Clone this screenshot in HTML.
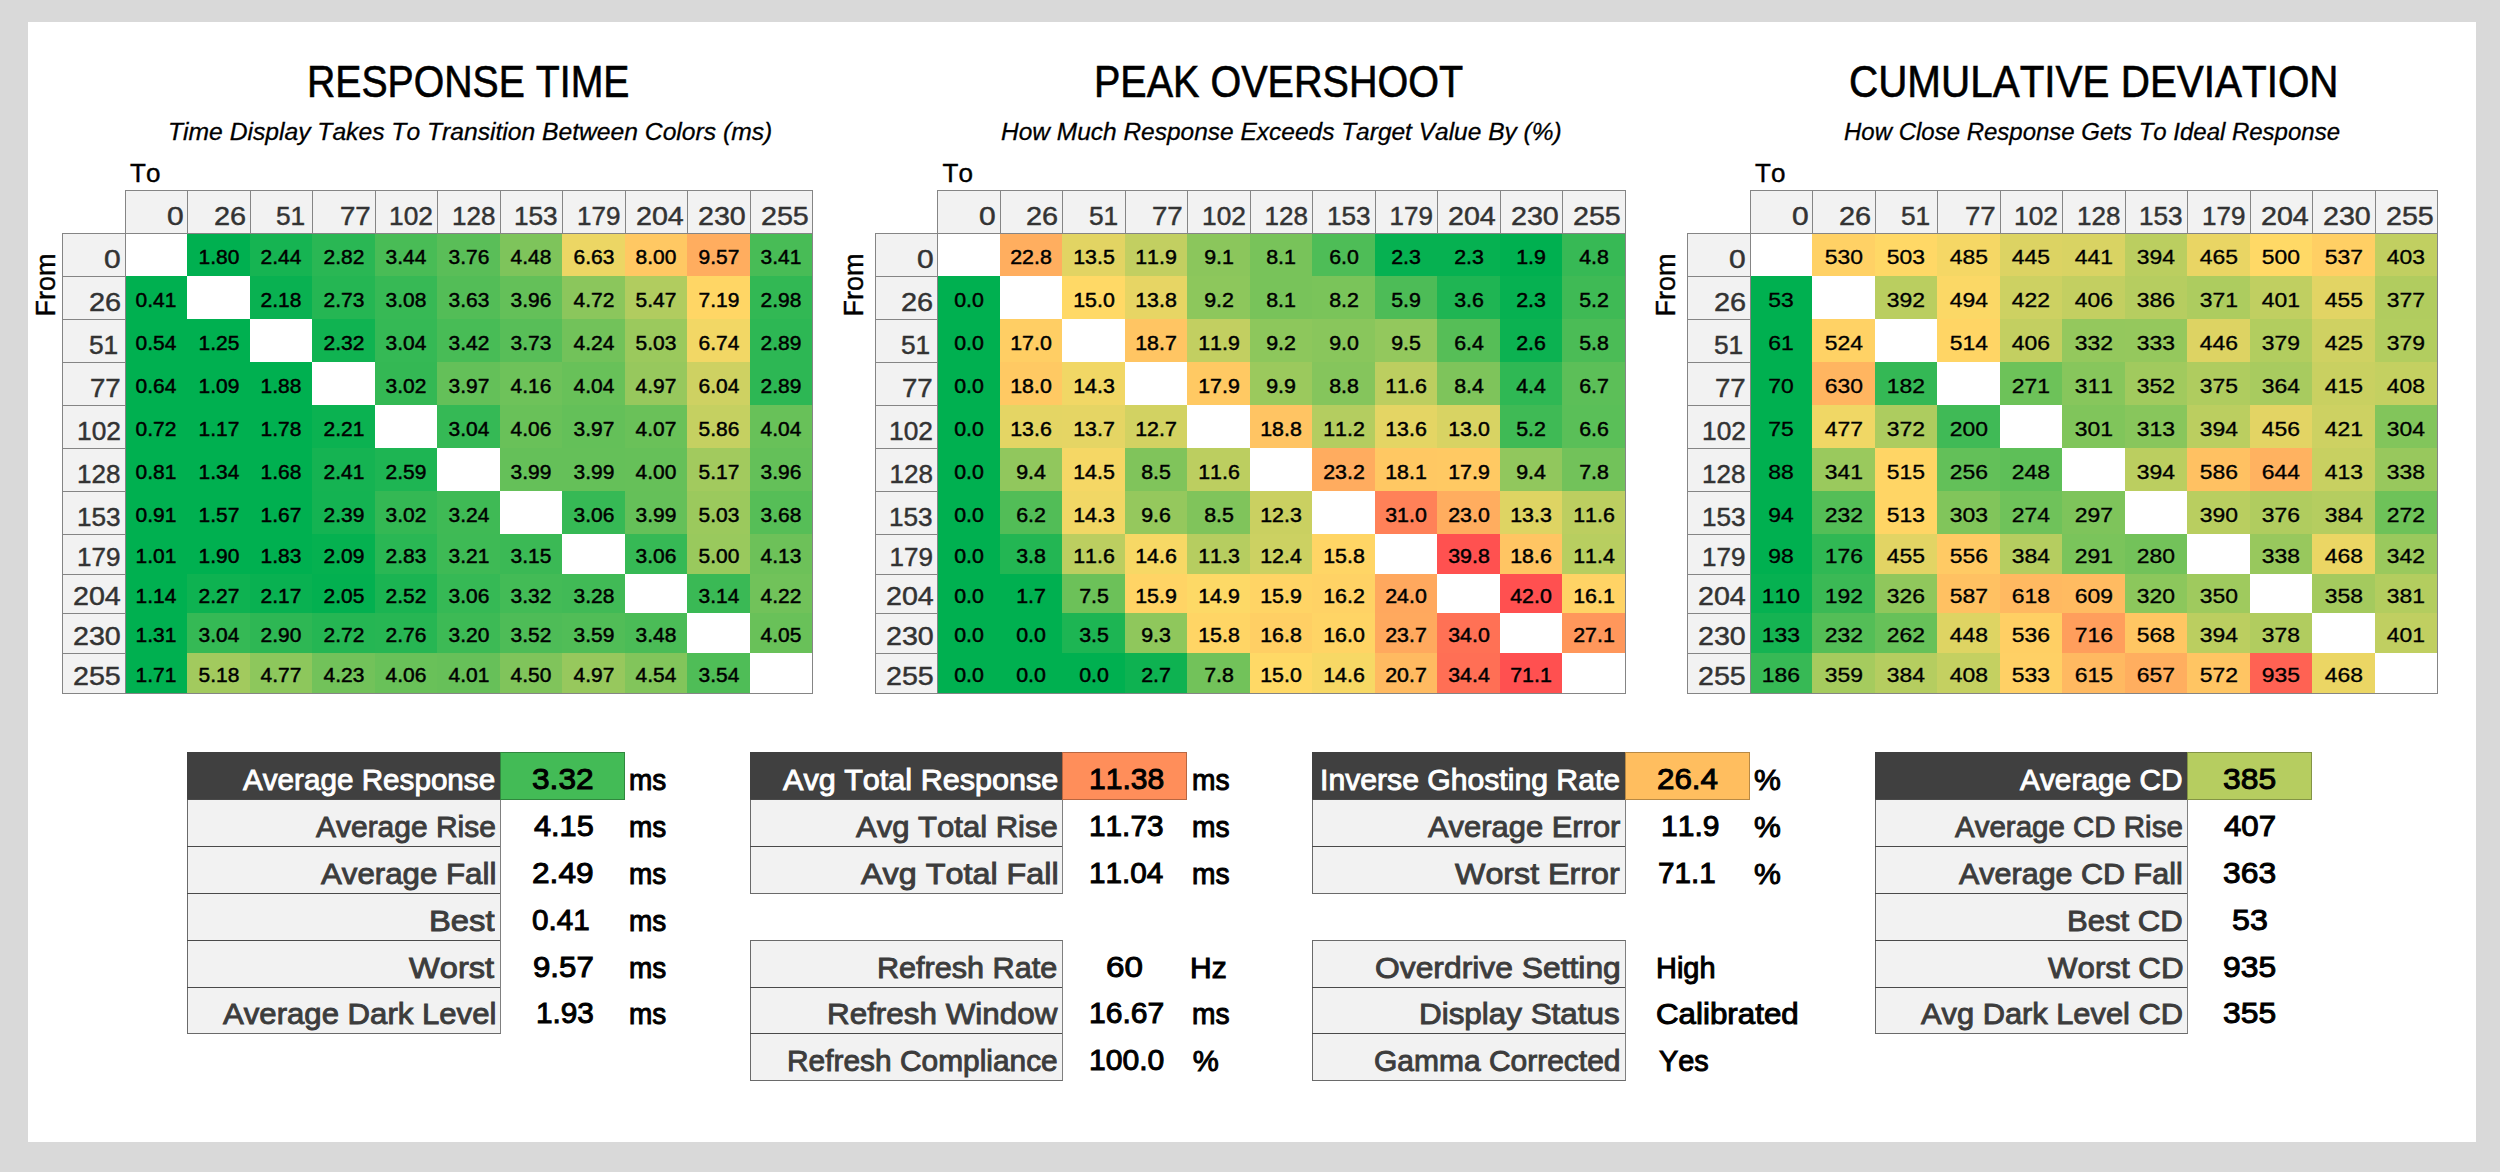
<!DOCTYPE html>
<html><head><meta charset="utf-8"><title>Response Time</title><style>
html,body{margin:0;padding:0;}
body{width:2500px;height:1172px;background:#d9d9d9;position:relative;overflow:hidden;font-family:"Liberation Sans", sans-serif;}
#p{position:absolute;left:28px;top:21.7px;width:2448px;height:1120px;background:#fff;}
div{position:absolute;box-sizing:border-box;}
.t{line-height:1;white-space:pre;font-kerning:none;}
.b{border:1px solid #858585;}
.vl{border-left:1px solid #858585;}
.hl{border-top:1px solid #858585;}
.ob{border-right:1px solid #858585;border-bottom:1px solid #858585;}
.sb{border:1px solid #6a6a6a;border-right:1.5px solid #808080;}
.shl{border-top:1px solid #4a4a4a;}
.vb{border:1px solid rgba(0,0,0,0.28);}
</style></head>
<body>
<div id="p"></div>
<div class="t" style="left:307.1px;top:61.18px;font-size:43.5px;color:#000;-webkit-text-stroke:0.6px #000;transform:scaleX(0.9014);transform-origin:left center;">RESPONSE TIME</div>
<div class="t" style="left:168.49px;top:119.78px;font-size:24.6px;color:#000;font-style:italic;-webkit-text-stroke:0.3px #000;transform:scaleX(1.0025);transform-origin:left center;">Time Display Takes To Transition Between Colors (ms)</div>
<div class="t" style="left:130px;top:159.99px;font-size:26px;color:#000;-webkit-text-stroke:0.4px #000;transform:scaleX(1.0000);transform-origin:left center;">To</div>
<div class="t" style="left:-14px;top:270px;width:120px;height:30px;line-height:30px;text-align:center;font-size:27px;color:#000;-webkit-text-stroke:0.4px #000;transform:rotate(-90deg);">From</div>
<div class="b" style="left:125px;top:190px;width:688px;height:44px;background:#f2f2f2;"></div>
<div class="t" style="left:166.85px;top:203px;font-size:26px;color:#333;-webkit-text-stroke:0.45px #333;transform:scaleX(1.1538);transform-origin:left center;">0</div>
<div class="vl" style="left:187px;top:190px;width:0px;height:43px;"></div>
<div class="t" style="left:213.89px;top:203px;font-size:26px;color:#333;-webkit-text-stroke:0.45px #333;transform:scaleX(1.1111);transform-origin:left center;">26</div>
<div class="vl" style="left:250px;top:190px;width:0px;height:43px;"></div>
<div class="t" style="left:276.19px;top:203px;font-size:26px;color:#333;-webkit-text-stroke:0.45px #333;transform:scaleX(1.0111);transform-origin:left center;">51</div>
<div class="vl" style="left:312px;top:190px;width:0px;height:43px;"></div>
<div class="t" style="left:339.74px;top:203px;font-size:26px;color:#333;-webkit-text-stroke:0.45px #333;transform:scaleX(1.0630);transform-origin:left center;">77</div>
<div class="vl" style="left:375px;top:190px;width:0px;height:43px;"></div>
<div class="t" style="left:389.48px;top:203px;font-size:26px;color:#333;-webkit-text-stroke:0.45px #333;transform:scaleX(1.0122);transform-origin:left center;">102</div>
<div class="vl" style="left:437px;top:190px;width:0px;height:43px;"></div>
<div class="t" style="left:452px;top:203px;font-size:26px;color:#333;-webkit-text-stroke:0.45px #333;transform:scaleX(1.0000);transform-origin:left center;">128</div>
<div class="vl" style="left:500px;top:190px;width:0px;height:43px;"></div>
<div class="t" style="left:514.29px;top:203px;font-size:26px;color:#333;-webkit-text-stroke:0.45px #333;transform:scaleX(1.0049);transform-origin:left center;">153</div>
<div class="vl" style="left:562px;top:190px;width:0px;height:43px;"></div>
<div class="t" style="left:577px;top:203px;font-size:26px;color:#333;-webkit-text-stroke:0.45px #333;transform:scaleX(1.0000);transform-origin:left center;">179</div>
<div class="vl" style="left:625px;top:190px;width:0px;height:43px;"></div>
<div class="t" style="left:635.65px;top:203px;font-size:26px;color:#333;-webkit-text-stroke:0.45px #333;transform:scaleX(1.1012);transform-origin:left center;">204</div>
<div class="vl" style="left:687px;top:190px;width:0px;height:43px;"></div>
<div class="t" style="left:698.15px;top:203px;font-size:26px;color:#333;-webkit-text-stroke:0.45px #333;transform:scaleX(1.1012);transform-origin:left center;">230</div>
<div class="vl" style="left:750px;top:190px;width:0px;height:43px;"></div>
<div class="t" style="left:760.65px;top:203px;font-size:26px;color:#333;-webkit-text-stroke:0.45px #333;transform:scaleX(1.1012);transform-origin:left center;">255</div>
<div class="b" style="left:62px;top:233px;width:64px;height:461px;background:#f2f2f2;"></div>
<div class="t" style="left:104.35px;top:246px;font-size:26px;color:#333;-webkit-text-stroke:0.45px #333;transform:scaleX(1.1538);transform-origin:left center;">0</div>
<div class="hl" style="left:62px;top:276px;width:63px;height:0px;"></div>
<div class="t" style="left:88.89px;top:289px;font-size:26px;color:#333;-webkit-text-stroke:0.45px #333;transform:scaleX(1.1111);transform-origin:left center;">26</div>
<div class="hl" style="left:62px;top:319px;width:63px;height:0px;"></div>
<div class="t" style="left:88.69px;top:332px;font-size:26px;color:#333;-webkit-text-stroke:0.45px #333;transform:scaleX(1.0111);transform-origin:left center;">51</div>
<div class="hl" style="left:62px;top:362px;width:63px;height:0px;"></div>
<div class="t" style="left:89.74px;top:375px;font-size:26px;color:#333;-webkit-text-stroke:0.45px #333;transform:scaleX(1.0630);transform-origin:left center;">77</div>
<div class="hl" style="left:62px;top:405px;width:63px;height:0px;"></div>
<div class="t" style="left:76.98px;top:418px;font-size:26px;color:#333;-webkit-text-stroke:0.45px #333;transform:scaleX(1.0122);transform-origin:left center;">102</div>
<div class="hl" style="left:62px;top:448px;width:63px;height:0px;"></div>
<div class="t" style="left:77px;top:461px;font-size:26px;color:#333;-webkit-text-stroke:0.45px #333;transform:scaleX(1.0000);transform-origin:left center;">128</div>
<div class="hl" style="left:62px;top:491px;width:63px;height:0px;"></div>
<div class="t" style="left:76.79px;top:504px;font-size:26px;color:#333;-webkit-text-stroke:0.45px #333;transform:scaleX(1.0049);transform-origin:left center;">153</div>
<div class="hl" style="left:62px;top:534px;width:63px;height:0px;"></div>
<div class="t" style="left:77px;top:544px;font-size:26px;color:#333;-webkit-text-stroke:0.45px #333;transform:scaleX(1.0000);transform-origin:left center;">179</div>
<div class="hl" style="left:62px;top:574px;width:63px;height:0px;"></div>
<div class="t" style="left:73.15px;top:583px;font-size:26px;color:#333;-webkit-text-stroke:0.45px #333;transform:scaleX(1.1012);transform-origin:left center;">204</div>
<div class="hl" style="left:62px;top:613px;width:63px;height:0px;"></div>
<div class="t" style="left:73.15px;top:623px;font-size:26px;color:#333;-webkit-text-stroke:0.45px #333;transform:scaleX(1.1012);transform-origin:left center;">230</div>
<div class="hl" style="left:62px;top:653px;width:63px;height:0px;"></div>
<div class="t" style="left:73.15px;top:663px;font-size:26px;color:#333;-webkit-text-stroke:0.45px #333;transform:scaleX(1.1012);transform-origin:left center;">255</div>
<div class="ob" style="left:125px;top:233px;width:688px;height:461px;"></div>
<div style="left:187px;top:234px;width:63px;height:42px;background:#00b050;"></div>
<div style="left:250px;top:234px;width:62px;height:42px;background:#16b452;"></div>
<div style="left:312px;top:234px;width:63px;height:42px;background:#2ab754;"></div>
<div style="left:375px;top:234px;width:62px;height:42px;background:#49bc56;"></div>
<div style="left:437px;top:234px;width:63px;height:42px;background:#5abe58;"></div>
<div style="left:500px;top:234px;width:62px;height:42px;background:#7ec45b;"></div>
<div style="left:562px;top:234px;width:63px;height:42px;background:#ecd664;"></div>
<div style="left:625px;top:234px;width:62px;height:42px;background:#ffc863;"></div>
<div style="left:687px;top:234px;width:63px;height:42px;background:#ffad5f;"></div>
<div style="left:750px;top:234px;width:62px;height:42px;background:#48bc56;"></div>
<div style="left:126px;top:276px;width:61px;height:43px;background:#00b050;"></div>
<div style="left:250px;top:276px;width:62px;height:43px;background:#09b151;"></div>
<div style="left:312px;top:276px;width:63px;height:43px;background:#25b653;"></div>
<div style="left:375px;top:276px;width:62px;height:43px;background:#37b955;"></div>
<div style="left:437px;top:276px;width:63px;height:43px;background:#53bd57;"></div>
<div style="left:500px;top:276px;width:62px;height:43px;background:#64c059;"></div>
<div style="left:562px;top:276px;width:63px;height:43px;background:#8bc65c;"></div>
<div style="left:625px;top:276px;width:62px;height:43px;background:#b1cc5f;"></div>
<div style="left:687px;top:276px;width:63px;height:43px;background:#ffd665;"></div>
<div style="left:750px;top:276px;width:62px;height:43px;background:#32b854;"></div>
<div style="left:126px;top:319px;width:61px;height:43px;background:#00b050;"></div>
<div style="left:187px;top:319px;width:63px;height:43px;background:#00b050;"></div>
<div style="left:312px;top:319px;width:63px;height:43px;background:#10b351;"></div>
<div style="left:375px;top:319px;width:62px;height:43px;background:#35b955;"></div>
<div style="left:437px;top:319px;width:63px;height:43px;background:#48bc56;"></div>
<div style="left:500px;top:319px;width:62px;height:43px;background:#58be58;"></div>
<div style="left:562px;top:319px;width:63px;height:43px;background:#72c25a;"></div>
<div style="left:625px;top:319px;width:62px;height:43px;background:#9bc95d;"></div>
<div style="left:687px;top:319px;width:63px;height:43px;background:#f2d765;"></div>
<div style="left:750px;top:319px;width:62px;height:43px;background:#2db754;"></div>
<div style="left:126px;top:362px;width:61px;height:43px;background:#00b050;"></div>
<div style="left:187px;top:362px;width:63px;height:43px;background:#00b050;"></div>
<div style="left:250px;top:362px;width:62px;height:43px;background:#00b050;"></div>
<div style="left:375px;top:362px;width:62px;height:43px;background:#34b854;"></div>
<div style="left:437px;top:362px;width:63px;height:43px;background:#64c059;"></div>
<div style="left:500px;top:362px;width:62px;height:43px;background:#6ec25a;"></div>
<div style="left:562px;top:362px;width:63px;height:43px;background:#68c159;"></div>
<div style="left:625px;top:362px;width:62px;height:43px;background:#97c85d;"></div>
<div style="left:687px;top:362px;width:63px;height:43px;background:#ced162;"></div>
<div style="left:750px;top:362px;width:62px;height:43px;background:#2db754;"></div>
<div style="left:126px;top:405px;width:61px;height:43px;background:#00b050;"></div>
<div style="left:187px;top:405px;width:63px;height:43px;background:#00b050;"></div>
<div style="left:250px;top:405px;width:62px;height:43px;background:#00b050;"></div>
<div style="left:312px;top:405px;width:63px;height:43px;background:#0bb251;"></div>
<div style="left:437px;top:405px;width:63px;height:43px;background:#35b955;"></div>
<div style="left:500px;top:405px;width:62px;height:43px;background:#69c159;"></div>
<div style="left:562px;top:405px;width:63px;height:43px;background:#64c059;"></div>
<div style="left:625px;top:405px;width:62px;height:43px;background:#6ac159;"></div>
<div style="left:687px;top:405px;width:63px;height:43px;background:#c5d061;"></div>
<div style="left:750px;top:405px;width:62px;height:43px;background:#68c159;"></div>
<div style="left:126px;top:448px;width:61px;height:43px;background:#00b050;"></div>
<div style="left:187px;top:448px;width:63px;height:43px;background:#00b050;"></div>
<div style="left:250px;top:448px;width:62px;height:43px;background:#00b050;"></div>
<div style="left:312px;top:448px;width:63px;height:43px;background:#15b352;"></div>
<div style="left:375px;top:448px;width:62px;height:43px;background:#1eb553;"></div>
<div style="left:500px;top:448px;width:62px;height:43px;background:#65c059;"></div>
<div style="left:562px;top:448px;width:63px;height:43px;background:#65c059;"></div>
<div style="left:625px;top:448px;width:62px;height:43px;background:#66c059;"></div>
<div style="left:687px;top:448px;width:63px;height:43px;background:#a2ca5e;"></div>
<div style="left:750px;top:448px;width:62px;height:43px;background:#64c059;"></div>
<div style="left:126px;top:491px;width:61px;height:43px;background:#00b050;"></div>
<div style="left:187px;top:491px;width:63px;height:43px;background:#00b050;"></div>
<div style="left:250px;top:491px;width:62px;height:43px;background:#00b050;"></div>
<div style="left:312px;top:491px;width:63px;height:43px;background:#14b352;"></div>
<div style="left:375px;top:491px;width:62px;height:43px;background:#34b854;"></div>
<div style="left:437px;top:491px;width:63px;height:43px;background:#3fba55;"></div>
<div style="left:562px;top:491px;width:63px;height:43px;background:#36b955;"></div>
<div style="left:625px;top:491px;width:62px;height:43px;background:#65c059;"></div>
<div style="left:687px;top:491px;width:63px;height:43px;background:#9bc95d;"></div>
<div style="left:750px;top:491px;width:62px;height:43px;background:#56be57;"></div>
<div style="left:126px;top:534px;width:61px;height:40px;background:#00b050;"></div>
<div style="left:187px;top:534px;width:63px;height:40px;background:#00b050;"></div>
<div style="left:250px;top:534px;width:62px;height:40px;background:#00b050;"></div>
<div style="left:312px;top:534px;width:63px;height:40px;background:#05b150;"></div>
<div style="left:375px;top:534px;width:62px;height:40px;background:#2ab754;"></div>
<div style="left:437px;top:534px;width:63px;height:40px;background:#3eba55;"></div>
<div style="left:500px;top:534px;width:62px;height:40px;background:#3bb955;"></div>
<div style="left:625px;top:534px;width:62px;height:40px;background:#36b955;"></div>
<div style="left:687px;top:534px;width:63px;height:40px;background:#99c95d;"></div>
<div style="left:750px;top:534px;width:62px;height:40px;background:#6dc159;"></div>
<div style="left:126px;top:574px;width:61px;height:39px;background:#00b050;"></div>
<div style="left:187px;top:574px;width:63px;height:39px;background:#0eb251;"></div>
<div style="left:250px;top:574px;width:62px;height:39px;background:#09b151;"></div>
<div style="left:312px;top:574px;width:63px;height:39px;background:#03b050;"></div>
<div style="left:375px;top:574px;width:62px;height:39px;background:#1bb452;"></div>
<div style="left:437px;top:574px;width:63px;height:39px;background:#36b955;"></div>
<div style="left:500px;top:574px;width:62px;height:39px;background:#43bb56;"></div>
<div style="left:562px;top:574px;width:63px;height:39px;background:#41ba56;"></div>
<div style="left:687px;top:574px;width:63px;height:39px;background:#3ab955;"></div>
<div style="left:750px;top:574px;width:62px;height:39px;background:#71c25a;"></div>
<div style="left:126px;top:613px;width:61px;height:40px;background:#00b050;"></div>
<div style="left:187px;top:613px;width:63px;height:40px;background:#35b955;"></div>
<div style="left:250px;top:613px;width:62px;height:40px;background:#2eb754;"></div>
<div style="left:312px;top:613px;width:63px;height:40px;background:#25b653;"></div>
<div style="left:375px;top:613px;width:62px;height:40px;background:#27b653;"></div>
<div style="left:437px;top:613px;width:63px;height:40px;background:#3dba55;"></div>
<div style="left:500px;top:613px;width:62px;height:40px;background:#4ebc57;"></div>
<div style="left:562px;top:613px;width:63px;height:40px;background:#51bd57;"></div>
<div style="left:625px;top:613px;width:62px;height:40px;background:#4bbc57;"></div>
<div style="left:750px;top:613px;width:62px;height:40px;background:#69c159;"></div>
<div style="left:126px;top:653px;width:61px;height:40px;background:#00b050;"></div>
<div style="left:187px;top:653px;width:63px;height:40px;background:#a2ca5e;"></div>
<div style="left:250px;top:653px;width:62px;height:40px;background:#8dc75c;"></div>
<div style="left:312px;top:653px;width:63px;height:40px;background:#72c25a;"></div>
<div style="left:375px;top:653px;width:62px;height:40px;background:#69c159;"></div>
<div style="left:437px;top:653px;width:63px;height:40px;background:#67c059;"></div>
<div style="left:500px;top:653px;width:62px;height:40px;background:#80c45b;"></div>
<div style="left:562px;top:653px;width:63px;height:40px;background:#97c85d;"></div>
<div style="left:625px;top:653px;width:62px;height:40px;background:#82c55b;"></div>
<div style="left:687px;top:653px;width:63px;height:40px;background:#4fbd57;"></div>
<div class="t d" style="top:248px;font-size:19.6px;color:#000;-webkit-text-stroke:0.45px #000;left:-381.25px;width:1200px;text-align:center;transform:scaleX(1.0700);transform-origin:center center;">1.80</div>
<div class="t d" style="top:248px;font-size:19.6px;color:#000;-webkit-text-stroke:0.45px #000;left:-318.75px;width:1200px;text-align:center;transform:scaleX(1.0700);transform-origin:center center;">2.44</div>
<div class="t d" style="top:248px;font-size:19.6px;color:#000;-webkit-text-stroke:0.45px #000;left:-256.25px;width:1200px;text-align:center;transform:scaleX(1.0700);transform-origin:center center;">2.82</div>
<div class="t d" style="top:248px;font-size:19.6px;color:#000;-webkit-text-stroke:0.45px #000;left:-193.75px;width:1200px;text-align:center;transform:scaleX(1.0700);transform-origin:center center;">3.44</div>
<div class="t d" style="top:248px;font-size:19.6px;color:#000;-webkit-text-stroke:0.45px #000;left:-131.25px;width:1200px;text-align:center;transform:scaleX(1.0700);transform-origin:center center;">3.76</div>
<div class="t d" style="top:248px;font-size:19.6px;color:#000;-webkit-text-stroke:0.45px #000;left:-68.75px;width:1200px;text-align:center;transform:scaleX(1.0700);transform-origin:center center;">4.48</div>
<div class="t d" style="top:248px;font-size:19.6px;color:#000;-webkit-text-stroke:0.45px #000;left:-6.25px;width:1200px;text-align:center;transform:scaleX(1.0700);transform-origin:center center;">6.63</div>
<div class="t d" style="top:248px;font-size:19.6px;color:#000;-webkit-text-stroke:0.45px #000;left:56.25px;width:1200px;text-align:center;transform:scaleX(1.0700);transform-origin:center center;">8.00</div>
<div class="t d" style="top:248px;font-size:19.6px;color:#000;-webkit-text-stroke:0.45px #000;left:118.75px;width:1200px;text-align:center;transform:scaleX(1.0700);transform-origin:center center;">9.57</div>
<div class="t d" style="top:248px;font-size:19.6px;color:#000;-webkit-text-stroke:0.45px #000;left:181.25px;width:1200px;text-align:center;transform:scaleX(1.0700);transform-origin:center center;">3.41</div>
<div class="t d" style="top:291px;font-size:19.6px;color:#000;-webkit-text-stroke:0.45px #000;left:-443.75px;width:1200px;text-align:center;transform:scaleX(1.0700);transform-origin:center center;">0.41</div>
<div class="t d" style="top:291px;font-size:19.6px;color:#000;-webkit-text-stroke:0.45px #000;left:-318.75px;width:1200px;text-align:center;transform:scaleX(1.0700);transform-origin:center center;">2.18</div>
<div class="t d" style="top:291px;font-size:19.6px;color:#000;-webkit-text-stroke:0.45px #000;left:-256.25px;width:1200px;text-align:center;transform:scaleX(1.0700);transform-origin:center center;">2.73</div>
<div class="t d" style="top:291px;font-size:19.6px;color:#000;-webkit-text-stroke:0.45px #000;left:-193.75px;width:1200px;text-align:center;transform:scaleX(1.0700);transform-origin:center center;">3.08</div>
<div class="t d" style="top:291px;font-size:19.6px;color:#000;-webkit-text-stroke:0.45px #000;left:-131.25px;width:1200px;text-align:center;transform:scaleX(1.0700);transform-origin:center center;">3.63</div>
<div class="t d" style="top:291px;font-size:19.6px;color:#000;-webkit-text-stroke:0.45px #000;left:-68.75px;width:1200px;text-align:center;transform:scaleX(1.0700);transform-origin:center center;">3.96</div>
<div class="t d" style="top:291px;font-size:19.6px;color:#000;-webkit-text-stroke:0.45px #000;left:-6.25px;width:1200px;text-align:center;transform:scaleX(1.0700);transform-origin:center center;">4.72</div>
<div class="t d" style="top:291px;font-size:19.6px;color:#000;-webkit-text-stroke:0.45px #000;left:56.25px;width:1200px;text-align:center;transform:scaleX(1.0700);transform-origin:center center;">5.47</div>
<div class="t d" style="top:291px;font-size:19.6px;color:#000;-webkit-text-stroke:0.45px #000;left:118.75px;width:1200px;text-align:center;transform:scaleX(1.0700);transform-origin:center center;">7.19</div>
<div class="t d" style="top:291px;font-size:19.6px;color:#000;-webkit-text-stroke:0.45px #000;left:181.25px;width:1200px;text-align:center;transform:scaleX(1.0700);transform-origin:center center;">2.98</div>
<div class="t d" style="top:334px;font-size:19.6px;color:#000;-webkit-text-stroke:0.45px #000;left:-443.75px;width:1200px;text-align:center;transform:scaleX(1.0700);transform-origin:center center;">0.54</div>
<div class="t d" style="top:334px;font-size:19.6px;color:#000;-webkit-text-stroke:0.45px #000;left:-381.25px;width:1200px;text-align:center;transform:scaleX(1.0700);transform-origin:center center;">1.25</div>
<div class="t d" style="top:334px;font-size:19.6px;color:#000;-webkit-text-stroke:0.45px #000;left:-256.25px;width:1200px;text-align:center;transform:scaleX(1.0700);transform-origin:center center;">2.32</div>
<div class="t d" style="top:334px;font-size:19.6px;color:#000;-webkit-text-stroke:0.45px #000;left:-193.75px;width:1200px;text-align:center;transform:scaleX(1.0700);transform-origin:center center;">3.04</div>
<div class="t d" style="top:334px;font-size:19.6px;color:#000;-webkit-text-stroke:0.45px #000;left:-131.25px;width:1200px;text-align:center;transform:scaleX(1.0700);transform-origin:center center;">3.42</div>
<div class="t d" style="top:334px;font-size:19.6px;color:#000;-webkit-text-stroke:0.45px #000;left:-68.75px;width:1200px;text-align:center;transform:scaleX(1.0700);transform-origin:center center;">3.73</div>
<div class="t d" style="top:334px;font-size:19.6px;color:#000;-webkit-text-stroke:0.45px #000;left:-6.25px;width:1200px;text-align:center;transform:scaleX(1.0700);transform-origin:center center;">4.24</div>
<div class="t d" style="top:334px;font-size:19.6px;color:#000;-webkit-text-stroke:0.45px #000;left:56.25px;width:1200px;text-align:center;transform:scaleX(1.0700);transform-origin:center center;">5.03</div>
<div class="t d" style="top:334px;font-size:19.6px;color:#000;-webkit-text-stroke:0.45px #000;left:118.75px;width:1200px;text-align:center;transform:scaleX(1.0700);transform-origin:center center;">6.74</div>
<div class="t d" style="top:334px;font-size:19.6px;color:#000;-webkit-text-stroke:0.45px #000;left:181.25px;width:1200px;text-align:center;transform:scaleX(1.0700);transform-origin:center center;">2.89</div>
<div class="t d" style="top:377px;font-size:19.6px;color:#000;-webkit-text-stroke:0.45px #000;left:-443.75px;width:1200px;text-align:center;transform:scaleX(1.0700);transform-origin:center center;">0.64</div>
<div class="t d" style="top:377px;font-size:19.6px;color:#000;-webkit-text-stroke:0.45px #000;left:-381.25px;width:1200px;text-align:center;transform:scaleX(1.0700);transform-origin:center center;">1.09</div>
<div class="t d" style="top:377px;font-size:19.6px;color:#000;-webkit-text-stroke:0.45px #000;left:-318.75px;width:1200px;text-align:center;transform:scaleX(1.0700);transform-origin:center center;">1.88</div>
<div class="t d" style="top:377px;font-size:19.6px;color:#000;-webkit-text-stroke:0.45px #000;left:-193.75px;width:1200px;text-align:center;transform:scaleX(1.0700);transform-origin:center center;">3.02</div>
<div class="t d" style="top:377px;font-size:19.6px;color:#000;-webkit-text-stroke:0.45px #000;left:-131.25px;width:1200px;text-align:center;transform:scaleX(1.0700);transform-origin:center center;">3.97</div>
<div class="t d" style="top:377px;font-size:19.6px;color:#000;-webkit-text-stroke:0.45px #000;left:-68.75px;width:1200px;text-align:center;transform:scaleX(1.0700);transform-origin:center center;">4.16</div>
<div class="t d" style="top:377px;font-size:19.6px;color:#000;-webkit-text-stroke:0.45px #000;left:-6.25px;width:1200px;text-align:center;transform:scaleX(1.0700);transform-origin:center center;">4.04</div>
<div class="t d" style="top:377px;font-size:19.6px;color:#000;-webkit-text-stroke:0.45px #000;left:56.25px;width:1200px;text-align:center;transform:scaleX(1.0700);transform-origin:center center;">4.97</div>
<div class="t d" style="top:377px;font-size:19.6px;color:#000;-webkit-text-stroke:0.45px #000;left:118.75px;width:1200px;text-align:center;transform:scaleX(1.0700);transform-origin:center center;">6.04</div>
<div class="t d" style="top:377px;font-size:19.6px;color:#000;-webkit-text-stroke:0.45px #000;left:181.25px;width:1200px;text-align:center;transform:scaleX(1.0700);transform-origin:center center;">2.89</div>
<div class="t d" style="top:420px;font-size:19.6px;color:#000;-webkit-text-stroke:0.45px #000;left:-443.75px;width:1200px;text-align:center;transform:scaleX(1.0700);transform-origin:center center;">0.72</div>
<div class="t d" style="top:420px;font-size:19.6px;color:#000;-webkit-text-stroke:0.45px #000;left:-381.25px;width:1200px;text-align:center;transform:scaleX(1.0700);transform-origin:center center;">1.17</div>
<div class="t d" style="top:420px;font-size:19.6px;color:#000;-webkit-text-stroke:0.45px #000;left:-318.75px;width:1200px;text-align:center;transform:scaleX(1.0700);transform-origin:center center;">1.78</div>
<div class="t d" style="top:420px;font-size:19.6px;color:#000;-webkit-text-stroke:0.45px #000;left:-256.25px;width:1200px;text-align:center;transform:scaleX(1.0700);transform-origin:center center;">2.21</div>
<div class="t d" style="top:420px;font-size:19.6px;color:#000;-webkit-text-stroke:0.45px #000;left:-131.25px;width:1200px;text-align:center;transform:scaleX(1.0700);transform-origin:center center;">3.04</div>
<div class="t d" style="top:420px;font-size:19.6px;color:#000;-webkit-text-stroke:0.45px #000;left:-68.75px;width:1200px;text-align:center;transform:scaleX(1.0700);transform-origin:center center;">4.06</div>
<div class="t d" style="top:420px;font-size:19.6px;color:#000;-webkit-text-stroke:0.45px #000;left:-6.25px;width:1200px;text-align:center;transform:scaleX(1.0700);transform-origin:center center;">3.97</div>
<div class="t d" style="top:420px;font-size:19.6px;color:#000;-webkit-text-stroke:0.45px #000;left:56.25px;width:1200px;text-align:center;transform:scaleX(1.0700);transform-origin:center center;">4.07</div>
<div class="t d" style="top:420px;font-size:19.6px;color:#000;-webkit-text-stroke:0.45px #000;left:118.75px;width:1200px;text-align:center;transform:scaleX(1.0700);transform-origin:center center;">5.86</div>
<div class="t d" style="top:420px;font-size:19.6px;color:#000;-webkit-text-stroke:0.45px #000;left:181.25px;width:1200px;text-align:center;transform:scaleX(1.0700);transform-origin:center center;">4.04</div>
<div class="t d" style="top:463px;font-size:19.6px;color:#000;-webkit-text-stroke:0.45px #000;left:-443.75px;width:1200px;text-align:center;transform:scaleX(1.0700);transform-origin:center center;">0.81</div>
<div class="t d" style="top:463px;font-size:19.6px;color:#000;-webkit-text-stroke:0.45px #000;left:-381.25px;width:1200px;text-align:center;transform:scaleX(1.0700);transform-origin:center center;">1.34</div>
<div class="t d" style="top:463px;font-size:19.6px;color:#000;-webkit-text-stroke:0.45px #000;left:-318.75px;width:1200px;text-align:center;transform:scaleX(1.0700);transform-origin:center center;">1.68</div>
<div class="t d" style="top:463px;font-size:19.6px;color:#000;-webkit-text-stroke:0.45px #000;left:-256.25px;width:1200px;text-align:center;transform:scaleX(1.0700);transform-origin:center center;">2.41</div>
<div class="t d" style="top:463px;font-size:19.6px;color:#000;-webkit-text-stroke:0.45px #000;left:-193.75px;width:1200px;text-align:center;transform:scaleX(1.0700);transform-origin:center center;">2.59</div>
<div class="t d" style="top:463px;font-size:19.6px;color:#000;-webkit-text-stroke:0.45px #000;left:-68.75px;width:1200px;text-align:center;transform:scaleX(1.0700);transform-origin:center center;">3.99</div>
<div class="t d" style="top:463px;font-size:19.6px;color:#000;-webkit-text-stroke:0.45px #000;left:-6.25px;width:1200px;text-align:center;transform:scaleX(1.0700);transform-origin:center center;">3.99</div>
<div class="t d" style="top:463px;font-size:19.6px;color:#000;-webkit-text-stroke:0.45px #000;left:56.25px;width:1200px;text-align:center;transform:scaleX(1.0700);transform-origin:center center;">4.00</div>
<div class="t d" style="top:463px;font-size:19.6px;color:#000;-webkit-text-stroke:0.45px #000;left:118.75px;width:1200px;text-align:center;transform:scaleX(1.0700);transform-origin:center center;">5.17</div>
<div class="t d" style="top:463px;font-size:19.6px;color:#000;-webkit-text-stroke:0.45px #000;left:181.25px;width:1200px;text-align:center;transform:scaleX(1.0700);transform-origin:center center;">3.96</div>
<div class="t d" style="top:506px;font-size:19.6px;color:#000;-webkit-text-stroke:0.45px #000;left:-443.75px;width:1200px;text-align:center;transform:scaleX(1.0700);transform-origin:center center;">0.91</div>
<div class="t d" style="top:506px;font-size:19.6px;color:#000;-webkit-text-stroke:0.45px #000;left:-381.25px;width:1200px;text-align:center;transform:scaleX(1.0700);transform-origin:center center;">1.57</div>
<div class="t d" style="top:506px;font-size:19.6px;color:#000;-webkit-text-stroke:0.45px #000;left:-318.75px;width:1200px;text-align:center;transform:scaleX(1.0700);transform-origin:center center;">1.67</div>
<div class="t d" style="top:506px;font-size:19.6px;color:#000;-webkit-text-stroke:0.45px #000;left:-256.25px;width:1200px;text-align:center;transform:scaleX(1.0700);transform-origin:center center;">2.39</div>
<div class="t d" style="top:506px;font-size:19.6px;color:#000;-webkit-text-stroke:0.45px #000;left:-193.75px;width:1200px;text-align:center;transform:scaleX(1.0700);transform-origin:center center;">3.02</div>
<div class="t d" style="top:506px;font-size:19.6px;color:#000;-webkit-text-stroke:0.45px #000;left:-131.25px;width:1200px;text-align:center;transform:scaleX(1.0700);transform-origin:center center;">3.24</div>
<div class="t d" style="top:506px;font-size:19.6px;color:#000;-webkit-text-stroke:0.45px #000;left:-6.25px;width:1200px;text-align:center;transform:scaleX(1.0700);transform-origin:center center;">3.06</div>
<div class="t d" style="top:506px;font-size:19.6px;color:#000;-webkit-text-stroke:0.45px #000;left:56.25px;width:1200px;text-align:center;transform:scaleX(1.0700);transform-origin:center center;">3.99</div>
<div class="t d" style="top:506px;font-size:19.6px;color:#000;-webkit-text-stroke:0.45px #000;left:118.75px;width:1200px;text-align:center;transform:scaleX(1.0700);transform-origin:center center;">5.03</div>
<div class="t d" style="top:506px;font-size:19.6px;color:#000;-webkit-text-stroke:0.45px #000;left:181.25px;width:1200px;text-align:center;transform:scaleX(1.0700);transform-origin:center center;">3.68</div>
<div class="t d" style="top:547px;font-size:19.6px;color:#000;-webkit-text-stroke:0.45px #000;left:-443.75px;width:1200px;text-align:center;transform:scaleX(1.0700);transform-origin:center center;">1.01</div>
<div class="t d" style="top:547px;font-size:19.6px;color:#000;-webkit-text-stroke:0.45px #000;left:-381.25px;width:1200px;text-align:center;transform:scaleX(1.0700);transform-origin:center center;">1.90</div>
<div class="t d" style="top:547px;font-size:19.6px;color:#000;-webkit-text-stroke:0.45px #000;left:-318.75px;width:1200px;text-align:center;transform:scaleX(1.0700);transform-origin:center center;">1.83</div>
<div class="t d" style="top:547px;font-size:19.6px;color:#000;-webkit-text-stroke:0.45px #000;left:-256.25px;width:1200px;text-align:center;transform:scaleX(1.0700);transform-origin:center center;">2.09</div>
<div class="t d" style="top:547px;font-size:19.6px;color:#000;-webkit-text-stroke:0.45px #000;left:-193.75px;width:1200px;text-align:center;transform:scaleX(1.0700);transform-origin:center center;">2.83</div>
<div class="t d" style="top:547px;font-size:19.6px;color:#000;-webkit-text-stroke:0.45px #000;left:-131.25px;width:1200px;text-align:center;transform:scaleX(1.0700);transform-origin:center center;">3.21</div>
<div class="t d" style="top:547px;font-size:19.6px;color:#000;-webkit-text-stroke:0.45px #000;left:-68.75px;width:1200px;text-align:center;transform:scaleX(1.0700);transform-origin:center center;">3.15</div>
<div class="t d" style="top:547px;font-size:19.6px;color:#000;-webkit-text-stroke:0.45px #000;left:56.25px;width:1200px;text-align:center;transform:scaleX(1.0700);transform-origin:center center;">3.06</div>
<div class="t d" style="top:547px;font-size:19.6px;color:#000;-webkit-text-stroke:0.45px #000;left:118.75px;width:1200px;text-align:center;transform:scaleX(1.0700);transform-origin:center center;">5.00</div>
<div class="t d" style="top:547px;font-size:19.6px;color:#000;-webkit-text-stroke:0.45px #000;left:181.25px;width:1200px;text-align:center;transform:scaleX(1.0700);transform-origin:center center;">4.13</div>
<div class="t d" style="top:587px;font-size:19.6px;color:#000;-webkit-text-stroke:0.45px #000;left:-443.75px;width:1200px;text-align:center;transform:scaleX(1.0700);transform-origin:center center;">1.14</div>
<div class="t d" style="top:587px;font-size:19.6px;color:#000;-webkit-text-stroke:0.45px #000;left:-381.25px;width:1200px;text-align:center;transform:scaleX(1.0700);transform-origin:center center;">2.27</div>
<div class="t d" style="top:587px;font-size:19.6px;color:#000;-webkit-text-stroke:0.45px #000;left:-318.75px;width:1200px;text-align:center;transform:scaleX(1.0700);transform-origin:center center;">2.17</div>
<div class="t d" style="top:587px;font-size:19.6px;color:#000;-webkit-text-stroke:0.45px #000;left:-256.25px;width:1200px;text-align:center;transform:scaleX(1.0700);transform-origin:center center;">2.05</div>
<div class="t d" style="top:587px;font-size:19.6px;color:#000;-webkit-text-stroke:0.45px #000;left:-193.75px;width:1200px;text-align:center;transform:scaleX(1.0700);transform-origin:center center;">2.52</div>
<div class="t d" style="top:587px;font-size:19.6px;color:#000;-webkit-text-stroke:0.45px #000;left:-131.25px;width:1200px;text-align:center;transform:scaleX(1.0700);transform-origin:center center;">3.06</div>
<div class="t d" style="top:587px;font-size:19.6px;color:#000;-webkit-text-stroke:0.45px #000;left:-68.75px;width:1200px;text-align:center;transform:scaleX(1.0700);transform-origin:center center;">3.32</div>
<div class="t d" style="top:587px;font-size:19.6px;color:#000;-webkit-text-stroke:0.45px #000;left:-6.25px;width:1200px;text-align:center;transform:scaleX(1.0700);transform-origin:center center;">3.28</div>
<div class="t d" style="top:587px;font-size:19.6px;color:#000;-webkit-text-stroke:0.45px #000;left:118.75px;width:1200px;text-align:center;transform:scaleX(1.0700);transform-origin:center center;">3.14</div>
<div class="t d" style="top:587px;font-size:19.6px;color:#000;-webkit-text-stroke:0.45px #000;left:181.25px;width:1200px;text-align:center;transform:scaleX(1.0700);transform-origin:center center;">4.22</div>
<div class="t d" style="top:626px;font-size:19.6px;color:#000;-webkit-text-stroke:0.45px #000;left:-443.75px;width:1200px;text-align:center;transform:scaleX(1.0700);transform-origin:center center;">1.31</div>
<div class="t d" style="top:626px;font-size:19.6px;color:#000;-webkit-text-stroke:0.45px #000;left:-381.25px;width:1200px;text-align:center;transform:scaleX(1.0700);transform-origin:center center;">3.04</div>
<div class="t d" style="top:626px;font-size:19.6px;color:#000;-webkit-text-stroke:0.45px #000;left:-318.75px;width:1200px;text-align:center;transform:scaleX(1.0700);transform-origin:center center;">2.90</div>
<div class="t d" style="top:626px;font-size:19.6px;color:#000;-webkit-text-stroke:0.45px #000;left:-256.25px;width:1200px;text-align:center;transform:scaleX(1.0700);transform-origin:center center;">2.72</div>
<div class="t d" style="top:626px;font-size:19.6px;color:#000;-webkit-text-stroke:0.45px #000;left:-193.75px;width:1200px;text-align:center;transform:scaleX(1.0700);transform-origin:center center;">2.76</div>
<div class="t d" style="top:626px;font-size:19.6px;color:#000;-webkit-text-stroke:0.45px #000;left:-131.25px;width:1200px;text-align:center;transform:scaleX(1.0700);transform-origin:center center;">3.20</div>
<div class="t d" style="top:626px;font-size:19.6px;color:#000;-webkit-text-stroke:0.45px #000;left:-68.75px;width:1200px;text-align:center;transform:scaleX(1.0700);transform-origin:center center;">3.52</div>
<div class="t d" style="top:626px;font-size:19.6px;color:#000;-webkit-text-stroke:0.45px #000;left:-6.25px;width:1200px;text-align:center;transform:scaleX(1.0700);transform-origin:center center;">3.59</div>
<div class="t d" style="top:626px;font-size:19.6px;color:#000;-webkit-text-stroke:0.45px #000;left:56.25px;width:1200px;text-align:center;transform:scaleX(1.0700);transform-origin:center center;">3.48</div>
<div class="t d" style="top:626px;font-size:19.6px;color:#000;-webkit-text-stroke:0.45px #000;left:181.25px;width:1200px;text-align:center;transform:scaleX(1.0700);transform-origin:center center;">4.05</div>
<div class="t d" style="top:666px;font-size:19.6px;color:#000;-webkit-text-stroke:0.45px #000;left:-443.75px;width:1200px;text-align:center;transform:scaleX(1.0700);transform-origin:center center;">1.71</div>
<div class="t d" style="top:666px;font-size:19.6px;color:#000;-webkit-text-stroke:0.45px #000;left:-381.25px;width:1200px;text-align:center;transform:scaleX(1.0700);transform-origin:center center;">5.18</div>
<div class="t d" style="top:666px;font-size:19.6px;color:#000;-webkit-text-stroke:0.45px #000;left:-318.75px;width:1200px;text-align:center;transform:scaleX(1.0700);transform-origin:center center;">4.77</div>
<div class="t d" style="top:666px;font-size:19.6px;color:#000;-webkit-text-stroke:0.45px #000;left:-256.25px;width:1200px;text-align:center;transform:scaleX(1.0700);transform-origin:center center;">4.23</div>
<div class="t d" style="top:666px;font-size:19.6px;color:#000;-webkit-text-stroke:0.45px #000;left:-193.75px;width:1200px;text-align:center;transform:scaleX(1.0700);transform-origin:center center;">4.06</div>
<div class="t d" style="top:666px;font-size:19.6px;color:#000;-webkit-text-stroke:0.45px #000;left:-131.25px;width:1200px;text-align:center;transform:scaleX(1.0700);transform-origin:center center;">4.01</div>
<div class="t d" style="top:666px;font-size:19.6px;color:#000;-webkit-text-stroke:0.45px #000;left:-68.75px;width:1200px;text-align:center;transform:scaleX(1.0700);transform-origin:center center;">4.50</div>
<div class="t d" style="top:666px;font-size:19.6px;color:#000;-webkit-text-stroke:0.45px #000;left:-6.25px;width:1200px;text-align:center;transform:scaleX(1.0700);transform-origin:center center;">4.97</div>
<div class="t d" style="top:666px;font-size:19.6px;color:#000;-webkit-text-stroke:0.45px #000;left:56.25px;width:1200px;text-align:center;transform:scaleX(1.0700);transform-origin:center center;">4.54</div>
<div class="t d" style="top:666px;font-size:19.6px;color:#000;-webkit-text-stroke:0.45px #000;left:118.75px;width:1200px;text-align:center;transform:scaleX(1.0700);transform-origin:center center;">3.54</div>
<div class="t" style="left:1094.47px;top:61.18px;font-size:43.5px;color:#000;-webkit-text-stroke:0.6px #000;transform:scaleX(0.9089);transform-origin:left center;">PEAK OVERSHOOT</div>
<div class="t" style="left:1001.2px;top:119.78px;font-size:24.6px;color:#000;font-style:italic;-webkit-text-stroke:0.3px #000;transform:scaleX(0.9954);transform-origin:left center;">How Much Response Exceeds Target Value By (%)</div>
<div class="t" style="left:942.5px;top:159.99px;font-size:26px;color:#000;-webkit-text-stroke:0.4px #000;transform:scaleX(1.0000);transform-origin:left center;">To</div>
<div class="t" style="left:793.5px;top:270px;width:120px;height:30px;line-height:30px;text-align:center;font-size:27px;color:#000;-webkit-text-stroke:0.4px #000;transform:rotate(-90deg);">From</div>
<div class="b" style="left:937px;top:190px;width:689px;height:44px;background:#f2f2f2;"></div>
<div class="t" style="left:979.35px;top:203px;font-size:26px;color:#333;-webkit-text-stroke:0.45px #333;transform:scaleX(1.1538);transform-origin:left center;">0</div>
<div class="vl" style="left:1000px;top:190px;width:0px;height:43px;"></div>
<div class="t" style="left:1026.39px;top:203px;font-size:26px;color:#333;-webkit-text-stroke:0.45px #333;transform:scaleX(1.1111);transform-origin:left center;">26</div>
<div class="vl" style="left:1062px;top:190px;width:0px;height:43px;"></div>
<div class="t" style="left:1088.69px;top:203px;font-size:26px;color:#333;-webkit-text-stroke:0.45px #333;transform:scaleX(1.0111);transform-origin:left center;">51</div>
<div class="vl" style="left:1125px;top:190px;width:0px;height:43px;"></div>
<div class="t" style="left:1152.24px;top:203px;font-size:26px;color:#333;-webkit-text-stroke:0.45px #333;transform:scaleX(1.0630);transform-origin:left center;">77</div>
<div class="vl" style="left:1187px;top:190px;width:0px;height:43px;"></div>
<div class="t" style="left:1201.98px;top:203px;font-size:26px;color:#333;-webkit-text-stroke:0.45px #333;transform:scaleX(1.0122);transform-origin:left center;">102</div>
<div class="vl" style="left:1250px;top:190px;width:0px;height:43px;"></div>
<div class="t" style="left:1264.5px;top:203px;font-size:26px;color:#333;-webkit-text-stroke:0.45px #333;transform:scaleX(1.0000);transform-origin:left center;">128</div>
<div class="vl" style="left:1312px;top:190px;width:0px;height:43px;"></div>
<div class="t" style="left:1326.79px;top:203px;font-size:26px;color:#333;-webkit-text-stroke:0.45px #333;transform:scaleX(1.0049);transform-origin:left center;">153</div>
<div class="vl" style="left:1375px;top:190px;width:0px;height:43px;"></div>
<div class="t" style="left:1389.5px;top:203px;font-size:26px;color:#333;-webkit-text-stroke:0.45px #333;transform:scaleX(1.0000);transform-origin:left center;">179</div>
<div class="vl" style="left:1437px;top:190px;width:0px;height:43px;"></div>
<div class="t" style="left:1448.15px;top:203px;font-size:26px;color:#333;-webkit-text-stroke:0.45px #333;transform:scaleX(1.1012);transform-origin:left center;">204</div>
<div class="vl" style="left:1500px;top:190px;width:0px;height:43px;"></div>
<div class="t" style="left:1510.65px;top:203px;font-size:26px;color:#333;-webkit-text-stroke:0.45px #333;transform:scaleX(1.1012);transform-origin:left center;">230</div>
<div class="vl" style="left:1562px;top:190px;width:0px;height:43px;"></div>
<div class="t" style="left:1573.15px;top:203px;font-size:26px;color:#333;-webkit-text-stroke:0.45px #333;transform:scaleX(1.1012);transform-origin:left center;">255</div>
<div class="b" style="left:875px;top:233px;width:63px;height:461px;background:#f2f2f2;"></div>
<div class="t" style="left:916.85px;top:246px;font-size:26px;color:#333;-webkit-text-stroke:0.45px #333;transform:scaleX(1.1538);transform-origin:left center;">0</div>
<div class="hl" style="left:875px;top:276px;width:62px;height:0px;"></div>
<div class="t" style="left:901.39px;top:289px;font-size:26px;color:#333;-webkit-text-stroke:0.45px #333;transform:scaleX(1.1111);transform-origin:left center;">26</div>
<div class="hl" style="left:875px;top:319px;width:62px;height:0px;"></div>
<div class="t" style="left:901.19px;top:332px;font-size:26px;color:#333;-webkit-text-stroke:0.45px #333;transform:scaleX(1.0111);transform-origin:left center;">51</div>
<div class="hl" style="left:875px;top:362px;width:62px;height:0px;"></div>
<div class="t" style="left:902.24px;top:375px;font-size:26px;color:#333;-webkit-text-stroke:0.45px #333;transform:scaleX(1.0630);transform-origin:left center;">77</div>
<div class="hl" style="left:875px;top:405px;width:62px;height:0px;"></div>
<div class="t" style="left:889.48px;top:418px;font-size:26px;color:#333;-webkit-text-stroke:0.45px #333;transform:scaleX(1.0122);transform-origin:left center;">102</div>
<div class="hl" style="left:875px;top:448px;width:62px;height:0px;"></div>
<div class="t" style="left:889.5px;top:461px;font-size:26px;color:#333;-webkit-text-stroke:0.45px #333;transform:scaleX(1.0000);transform-origin:left center;">128</div>
<div class="hl" style="left:875px;top:491px;width:62px;height:0px;"></div>
<div class="t" style="left:889.29px;top:504px;font-size:26px;color:#333;-webkit-text-stroke:0.45px #333;transform:scaleX(1.0049);transform-origin:left center;">153</div>
<div class="hl" style="left:875px;top:534px;width:62px;height:0px;"></div>
<div class="t" style="left:889.5px;top:544px;font-size:26px;color:#333;-webkit-text-stroke:0.45px #333;transform:scaleX(1.0000);transform-origin:left center;">179</div>
<div class="hl" style="left:875px;top:574px;width:62px;height:0px;"></div>
<div class="t" style="left:885.65px;top:583px;font-size:26px;color:#333;-webkit-text-stroke:0.45px #333;transform:scaleX(1.1012);transform-origin:left center;">204</div>
<div class="hl" style="left:875px;top:613px;width:62px;height:0px;"></div>
<div class="t" style="left:885.65px;top:623px;font-size:26px;color:#333;-webkit-text-stroke:0.45px #333;transform:scaleX(1.1012);transform-origin:left center;">230</div>
<div class="hl" style="left:875px;top:653px;width:62px;height:0px;"></div>
<div class="t" style="left:885.65px;top:663px;font-size:26px;color:#333;-webkit-text-stroke:0.45px #333;transform:scaleX(1.1012);transform-origin:left center;">255</div>
<div class="ob" style="left:937px;top:233px;width:689px;height:461px;"></div>
<div style="left:1000px;top:234px;width:62px;height:42px;background:#ffae5f;"></div>
<div style="left:1062px;top:234px;width:63px;height:42px;background:#e2d463;"></div>
<div style="left:1125px;top:234px;width:62px;height:42px;background:#c2cf61;"></div>
<div style="left:1187px;top:234px;width:63px;height:42px;background:#8bc65c;"></div>
<div style="left:1250px;top:234px;width:62px;height:42px;background:#78c35a;"></div>
<div style="left:1312px;top:234px;width:63px;height:42px;background:#4ebd57;"></div>
<div style="left:1375px;top:234px;width:62px;height:42px;background:#06b151;"></div>
<div style="left:1437px;top:234px;width:63px;height:42px;background:#06b151;"></div>
<div style="left:1500px;top:234px;width:62px;height:42px;background:#00b050;"></div>
<div style="left:1562px;top:234px;width:63px;height:42px;background:#37b955;"></div>
<div style="left:938px;top:276px;width:62px;height:43px;background:#00b050;"></div>
<div style="left:1062px;top:276px;width:63px;height:43px;background:#ffd966;"></div>
<div style="left:1125px;top:276px;width:62px;height:43px;background:#e7d564;"></div>
<div style="left:1187px;top:276px;width:63px;height:43px;background:#8dc75c;"></div>
<div style="left:1250px;top:276px;width:62px;height:43px;background:#78c35a;"></div>
<div style="left:1312px;top:276px;width:63px;height:43px;background:#7ac45a;"></div>
<div style="left:1375px;top:276px;width:62px;height:43px;background:#4dbc57;"></div>
<div style="left:1437px;top:276px;width:63px;height:43px;background:#1fb553;"></div>
<div style="left:1500px;top:276px;width:62px;height:43px;background:#06b151;"></div>
<div style="left:1562px;top:276px;width:63px;height:43px;background:#3fba55;"></div>
<div style="left:938px;top:319px;width:62px;height:43px;background:#00b050;"></div>
<div style="left:1000px;top:319px;width:62px;height:43px;background:#ffce64;"></div>
<div style="left:1125px;top:319px;width:62px;height:43px;background:#ffc563;"></div>
<div style="left:1187px;top:319px;width:63px;height:43px;background:#c2cf61;"></div>
<div style="left:1250px;top:319px;width:62px;height:43px;background:#8dc75c;"></div>
<div style="left:1312px;top:319px;width:63px;height:43px;background:#89c65c;"></div>
<div style="left:1375px;top:319px;width:62px;height:43px;background:#93c85d;"></div>
<div style="left:1437px;top:319px;width:63px;height:43px;background:#56be57;"></div>
<div style="left:1500px;top:319px;width:62px;height:43px;background:#0cb251;"></div>
<div style="left:1562px;top:319px;width:63px;height:43px;background:#4bbc56;"></div>
<div style="left:938px;top:362px;width:62px;height:43px;background:#00b050;"></div>
<div style="left:1000px;top:362px;width:62px;height:43px;background:#ffc963;"></div>
<div style="left:1062px;top:362px;width:63px;height:43px;background:#f1d765;"></div>
<div style="left:1187px;top:362px;width:63px;height:43px;background:#ffc963;"></div>
<div style="left:1250px;top:362px;width:62px;height:43px;background:#9bc95d;"></div>
<div style="left:1312px;top:362px;width:63px;height:43px;background:#85c55c;"></div>
<div style="left:1375px;top:362px;width:62px;height:43px;background:#bcce60;"></div>
<div style="left:1437px;top:362px;width:63px;height:43px;background:#7ec45b;"></div>
<div style="left:1500px;top:362px;width:62px;height:43px;background:#2fb854;"></div>
<div style="left:1562px;top:362px;width:63px;height:43px;background:#5cbf58;"></div>
<div style="left:938px;top:405px;width:62px;height:43px;background:#00b050;"></div>
<div style="left:1000px;top:405px;width:62px;height:43px;background:#e4d564;"></div>
<div style="left:1062px;top:405px;width:63px;height:43px;background:#e5d564;"></div>
<div style="left:1125px;top:405px;width:62px;height:43px;background:#d2d262;"></div>
<div style="left:1250px;top:405px;width:62px;height:43px;background:#ffc463;"></div>
<div style="left:1312px;top:405px;width:63px;height:43px;background:#b4cd60;"></div>
<div style="left:1375px;top:405px;width:62px;height:43px;background:#e4d564;"></div>
<div style="left:1437px;top:405px;width:63px;height:43px;background:#d8d363;"></div>
<div style="left:1500px;top:405px;width:62px;height:43px;background:#3fba55;"></div>
<div style="left:1562px;top:405px;width:63px;height:43px;background:#5abf58;"></div>
<div style="left:938px;top:448px;width:62px;height:43px;background:#00b050;"></div>
<div style="left:1000px;top:448px;width:62px;height:43px;background:#91c75d;"></div>
<div style="left:1062px;top:448px;width:63px;height:43px;background:#f5d765;"></div>
<div style="left:1125px;top:448px;width:62px;height:43px;background:#80c45b;"></div>
<div style="left:1187px;top:448px;width:63px;height:43px;background:#bcce60;"></div>
<div style="left:1312px;top:448px;width:63px;height:43px;background:#ffac5f;"></div>
<div style="left:1375px;top:448px;width:62px;height:43px;background:#ffc863;"></div>
<div style="left:1437px;top:448px;width:63px;height:43px;background:#ffc963;"></div>
<div style="left:1500px;top:448px;width:62px;height:43px;background:#91c75d;"></div>
<div style="left:1562px;top:448px;width:63px;height:43px;background:#72c25a;"></div>
<div style="left:938px;top:491px;width:62px;height:43px;background:#00b050;"></div>
<div style="left:1000px;top:491px;width:62px;height:43px;background:#52bd57;"></div>
<div style="left:1062px;top:491px;width:63px;height:43px;background:#f1d765;"></div>
<div style="left:1125px;top:491px;width:62px;height:43px;background:#95c85d;"></div>
<div style="left:1187px;top:491px;width:63px;height:43px;background:#80c45b;"></div>
<div style="left:1250px;top:491px;width:62px;height:43px;background:#cad061;"></div>
<div style="left:1375px;top:491px;width:62px;height:43px;background:#ff8158;"></div>
<div style="left:1437px;top:491px;width:63px;height:43px;background:#ffad5f;"></div>
<div style="left:1500px;top:491px;width:62px;height:43px;background:#ded463;"></div>
<div style="left:1562px;top:491px;width:63px;height:43px;background:#bcce60;"></div>
<div style="left:938px;top:534px;width:62px;height:40px;background:#00b050;"></div>
<div style="left:1000px;top:534px;width:62px;height:40px;background:#23b653;"></div>
<div style="left:1062px;top:534px;width:63px;height:40px;background:#bcce60;"></div>
<div style="left:1125px;top:534px;width:62px;height:40px;background:#f7d865;"></div>
<div style="left:1187px;top:534px;width:63px;height:40px;background:#b6cd60;"></div>
<div style="left:1250px;top:534px;width:62px;height:40px;background:#ccd162;"></div>
<div style="left:1312px;top:534px;width:63px;height:40px;background:#ffd565;"></div>
<div style="left:1437px;top:534px;width:63px;height:40px;background:#ff5150;"></div>
<div style="left:1500px;top:534px;width:62px;height:40px;background:#ffc563;"></div>
<div style="left:1562px;top:534px;width:63px;height:40px;background:#b8ce60;"></div>
<div style="left:938px;top:574px;width:62px;height:39px;background:#00b050;"></div>
<div style="left:1000px;top:574px;width:62px;height:39px;background:#00b050;"></div>
<div style="left:1062px;top:574px;width:63px;height:39px;background:#6cc159;"></div>
<div style="left:1125px;top:574px;width:62px;height:39px;background:#ffd465;"></div>
<div style="left:1187px;top:574px;width:63px;height:39px;background:#fdd966;"></div>
<div style="left:1250px;top:574px;width:62px;height:39px;background:#ffd465;"></div>
<div style="left:1312px;top:574px;width:63px;height:39px;background:#ffd265;"></div>
<div style="left:1375px;top:574px;width:62px;height:39px;background:#ffa85e;"></div>
<div style="left:1500px;top:574px;width:62px;height:39px;background:#ff5050;"></div>
<div style="left:1562px;top:574px;width:63px;height:39px;background:#ffd365;"></div>
<div style="left:938px;top:613px;width:62px;height:40px;background:#00b050;"></div>
<div style="left:1000px;top:613px;width:62px;height:40px;background:#00b050;"></div>
<div style="left:1062px;top:613px;width:63px;height:40px;background:#1db553;"></div>
<div style="left:1125px;top:613px;width:62px;height:40px;background:#8fc75c;"></div>
<div style="left:1187px;top:613px;width:63px;height:40px;background:#ffd565;"></div>
<div style="left:1250px;top:613px;width:62px;height:40px;background:#ffcf64;"></div>
<div style="left:1312px;top:613px;width:63px;height:40px;background:#ffd465;"></div>
<div style="left:1375px;top:613px;width:62px;height:40px;background:#ffa95e;"></div>
<div style="left:1437px;top:613px;width:63px;height:40px;background:#ff7155;"></div>
<div style="left:1562px;top:613px;width:63px;height:40px;background:#ff975b;"></div>
<div style="left:938px;top:653px;width:62px;height:40px;background:#00b050;"></div>
<div style="left:1000px;top:653px;width:62px;height:40px;background:#00b050;"></div>
<div style="left:1062px;top:653px;width:63px;height:40px;background:#00b050;"></div>
<div style="left:1125px;top:653px;width:62px;height:40px;background:#0eb251;"></div>
<div style="left:1187px;top:653px;width:63px;height:40px;background:#72c25a;"></div>
<div style="left:1250px;top:653px;width:62px;height:40px;background:#ffd966;"></div>
<div style="left:1312px;top:653px;width:63px;height:40px;background:#f7d865;"></div>
<div style="left:1375px;top:653px;width:62px;height:40px;background:#ffba61;"></div>
<div style="left:1437px;top:653px;width:63px;height:40px;background:#ff6f55;"></div>
<div style="left:1500px;top:653px;width:62px;height:40px;background:#ff5050;"></div>
<div class="t d" style="top:248px;font-size:19.6px;color:#000;-webkit-text-stroke:0.45px #000;left:431.25px;width:1200px;text-align:center;transform:scaleX(1.0900);transform-origin:center center;">22.8</div>
<div class="t d" style="top:248px;font-size:19.6px;color:#000;-webkit-text-stroke:0.45px #000;left:493.75px;width:1200px;text-align:center;transform:scaleX(1.0900);transform-origin:center center;">13.5</div>
<div class="t d" style="top:248px;font-size:19.6px;color:#000;-webkit-text-stroke:0.45px #000;left:556.25px;width:1200px;text-align:center;transform:scaleX(1.0900);transform-origin:center center;">11.9</div>
<div class="t d" style="top:248px;font-size:19.6px;color:#000;-webkit-text-stroke:0.45px #000;left:618.75px;width:1200px;text-align:center;transform:scaleX(1.0900);transform-origin:center center;">9.1</div>
<div class="t d" style="top:248px;font-size:19.6px;color:#000;-webkit-text-stroke:0.45px #000;left:681.25px;width:1200px;text-align:center;transform:scaleX(1.0900);transform-origin:center center;">8.1</div>
<div class="t d" style="top:248px;font-size:19.6px;color:#000;-webkit-text-stroke:0.45px #000;left:743.75px;width:1200px;text-align:center;transform:scaleX(1.0900);transform-origin:center center;">6.0</div>
<div class="t d" style="top:248px;font-size:19.6px;color:#000;-webkit-text-stroke:0.45px #000;left:806.25px;width:1200px;text-align:center;transform:scaleX(1.0900);transform-origin:center center;">2.3</div>
<div class="t d" style="top:248px;font-size:19.6px;color:#000;-webkit-text-stroke:0.45px #000;left:868.75px;width:1200px;text-align:center;transform:scaleX(1.0900);transform-origin:center center;">2.3</div>
<div class="t d" style="top:248px;font-size:19.6px;color:#000;-webkit-text-stroke:0.45px #000;left:931.25px;width:1200px;text-align:center;transform:scaleX(1.0900);transform-origin:center center;">1.9</div>
<div class="t d" style="top:248px;font-size:19.6px;color:#000;-webkit-text-stroke:0.45px #000;left:993.75px;width:1200px;text-align:center;transform:scaleX(1.0900);transform-origin:center center;">4.8</div>
<div class="t d" style="top:291px;font-size:19.6px;color:#000;-webkit-text-stroke:0.45px #000;left:368.75px;width:1200px;text-align:center;transform:scaleX(1.0900);transform-origin:center center;">0.0</div>
<div class="t d" style="top:291px;font-size:19.6px;color:#000;-webkit-text-stroke:0.45px #000;left:493.75px;width:1200px;text-align:center;transform:scaleX(1.0900);transform-origin:center center;">15.0</div>
<div class="t d" style="top:291px;font-size:19.6px;color:#000;-webkit-text-stroke:0.45px #000;left:556.25px;width:1200px;text-align:center;transform:scaleX(1.0900);transform-origin:center center;">13.8</div>
<div class="t d" style="top:291px;font-size:19.6px;color:#000;-webkit-text-stroke:0.45px #000;left:618.75px;width:1200px;text-align:center;transform:scaleX(1.0900);transform-origin:center center;">9.2</div>
<div class="t d" style="top:291px;font-size:19.6px;color:#000;-webkit-text-stroke:0.45px #000;left:681.25px;width:1200px;text-align:center;transform:scaleX(1.0900);transform-origin:center center;">8.1</div>
<div class="t d" style="top:291px;font-size:19.6px;color:#000;-webkit-text-stroke:0.45px #000;left:743.75px;width:1200px;text-align:center;transform:scaleX(1.0900);transform-origin:center center;">8.2</div>
<div class="t d" style="top:291px;font-size:19.6px;color:#000;-webkit-text-stroke:0.45px #000;left:806.25px;width:1200px;text-align:center;transform:scaleX(1.0900);transform-origin:center center;">5.9</div>
<div class="t d" style="top:291px;font-size:19.6px;color:#000;-webkit-text-stroke:0.45px #000;left:868.75px;width:1200px;text-align:center;transform:scaleX(1.0900);transform-origin:center center;">3.6</div>
<div class="t d" style="top:291px;font-size:19.6px;color:#000;-webkit-text-stroke:0.45px #000;left:931.25px;width:1200px;text-align:center;transform:scaleX(1.0900);transform-origin:center center;">2.3</div>
<div class="t d" style="top:291px;font-size:19.6px;color:#000;-webkit-text-stroke:0.45px #000;left:993.75px;width:1200px;text-align:center;transform:scaleX(1.0900);transform-origin:center center;">5.2</div>
<div class="t d" style="top:334px;font-size:19.6px;color:#000;-webkit-text-stroke:0.45px #000;left:368.75px;width:1200px;text-align:center;transform:scaleX(1.0900);transform-origin:center center;">0.0</div>
<div class="t d" style="top:334px;font-size:19.6px;color:#000;-webkit-text-stroke:0.45px #000;left:431.25px;width:1200px;text-align:center;transform:scaleX(1.0900);transform-origin:center center;">17.0</div>
<div class="t d" style="top:334px;font-size:19.6px;color:#000;-webkit-text-stroke:0.45px #000;left:556.25px;width:1200px;text-align:center;transform:scaleX(1.0900);transform-origin:center center;">18.7</div>
<div class="t d" style="top:334px;font-size:19.6px;color:#000;-webkit-text-stroke:0.45px #000;left:618.75px;width:1200px;text-align:center;transform:scaleX(1.0900);transform-origin:center center;">11.9</div>
<div class="t d" style="top:334px;font-size:19.6px;color:#000;-webkit-text-stroke:0.45px #000;left:681.25px;width:1200px;text-align:center;transform:scaleX(1.0900);transform-origin:center center;">9.2</div>
<div class="t d" style="top:334px;font-size:19.6px;color:#000;-webkit-text-stroke:0.45px #000;left:743.75px;width:1200px;text-align:center;transform:scaleX(1.0900);transform-origin:center center;">9.0</div>
<div class="t d" style="top:334px;font-size:19.6px;color:#000;-webkit-text-stroke:0.45px #000;left:806.25px;width:1200px;text-align:center;transform:scaleX(1.0900);transform-origin:center center;">9.5</div>
<div class="t d" style="top:334px;font-size:19.6px;color:#000;-webkit-text-stroke:0.45px #000;left:868.75px;width:1200px;text-align:center;transform:scaleX(1.0900);transform-origin:center center;">6.4</div>
<div class="t d" style="top:334px;font-size:19.6px;color:#000;-webkit-text-stroke:0.45px #000;left:931.25px;width:1200px;text-align:center;transform:scaleX(1.0900);transform-origin:center center;">2.6</div>
<div class="t d" style="top:334px;font-size:19.6px;color:#000;-webkit-text-stroke:0.45px #000;left:993.75px;width:1200px;text-align:center;transform:scaleX(1.0900);transform-origin:center center;">5.8</div>
<div class="t d" style="top:377px;font-size:19.6px;color:#000;-webkit-text-stroke:0.45px #000;left:368.75px;width:1200px;text-align:center;transform:scaleX(1.0900);transform-origin:center center;">0.0</div>
<div class="t d" style="top:377px;font-size:19.6px;color:#000;-webkit-text-stroke:0.45px #000;left:431.25px;width:1200px;text-align:center;transform:scaleX(1.0900);transform-origin:center center;">18.0</div>
<div class="t d" style="top:377px;font-size:19.6px;color:#000;-webkit-text-stroke:0.45px #000;left:493.75px;width:1200px;text-align:center;transform:scaleX(1.0900);transform-origin:center center;">14.3</div>
<div class="t d" style="top:377px;font-size:19.6px;color:#000;-webkit-text-stroke:0.45px #000;left:618.75px;width:1200px;text-align:center;transform:scaleX(1.0900);transform-origin:center center;">17.9</div>
<div class="t d" style="top:377px;font-size:19.6px;color:#000;-webkit-text-stroke:0.45px #000;left:681.25px;width:1200px;text-align:center;transform:scaleX(1.0900);transform-origin:center center;">9.9</div>
<div class="t d" style="top:377px;font-size:19.6px;color:#000;-webkit-text-stroke:0.45px #000;left:743.75px;width:1200px;text-align:center;transform:scaleX(1.0900);transform-origin:center center;">8.8</div>
<div class="t d" style="top:377px;font-size:19.6px;color:#000;-webkit-text-stroke:0.45px #000;left:806.25px;width:1200px;text-align:center;transform:scaleX(1.0900);transform-origin:center center;">11.6</div>
<div class="t d" style="top:377px;font-size:19.6px;color:#000;-webkit-text-stroke:0.45px #000;left:868.75px;width:1200px;text-align:center;transform:scaleX(1.0900);transform-origin:center center;">8.4</div>
<div class="t d" style="top:377px;font-size:19.6px;color:#000;-webkit-text-stroke:0.45px #000;left:931.25px;width:1200px;text-align:center;transform:scaleX(1.0900);transform-origin:center center;">4.4</div>
<div class="t d" style="top:377px;font-size:19.6px;color:#000;-webkit-text-stroke:0.45px #000;left:993.75px;width:1200px;text-align:center;transform:scaleX(1.0900);transform-origin:center center;">6.7</div>
<div class="t d" style="top:420px;font-size:19.6px;color:#000;-webkit-text-stroke:0.45px #000;left:368.75px;width:1200px;text-align:center;transform:scaleX(1.0900);transform-origin:center center;">0.0</div>
<div class="t d" style="top:420px;font-size:19.6px;color:#000;-webkit-text-stroke:0.45px #000;left:431.25px;width:1200px;text-align:center;transform:scaleX(1.0900);transform-origin:center center;">13.6</div>
<div class="t d" style="top:420px;font-size:19.6px;color:#000;-webkit-text-stroke:0.45px #000;left:493.75px;width:1200px;text-align:center;transform:scaleX(1.0900);transform-origin:center center;">13.7</div>
<div class="t d" style="top:420px;font-size:19.6px;color:#000;-webkit-text-stroke:0.45px #000;left:556.25px;width:1200px;text-align:center;transform:scaleX(1.0900);transform-origin:center center;">12.7</div>
<div class="t d" style="top:420px;font-size:19.6px;color:#000;-webkit-text-stroke:0.45px #000;left:681.25px;width:1200px;text-align:center;transform:scaleX(1.0900);transform-origin:center center;">18.8</div>
<div class="t d" style="top:420px;font-size:19.6px;color:#000;-webkit-text-stroke:0.45px #000;left:743.75px;width:1200px;text-align:center;transform:scaleX(1.0900);transform-origin:center center;">11.2</div>
<div class="t d" style="top:420px;font-size:19.6px;color:#000;-webkit-text-stroke:0.45px #000;left:806.25px;width:1200px;text-align:center;transform:scaleX(1.0900);transform-origin:center center;">13.6</div>
<div class="t d" style="top:420px;font-size:19.6px;color:#000;-webkit-text-stroke:0.45px #000;left:868.75px;width:1200px;text-align:center;transform:scaleX(1.0900);transform-origin:center center;">13.0</div>
<div class="t d" style="top:420px;font-size:19.6px;color:#000;-webkit-text-stroke:0.45px #000;left:931.25px;width:1200px;text-align:center;transform:scaleX(1.0900);transform-origin:center center;">5.2</div>
<div class="t d" style="top:420px;font-size:19.6px;color:#000;-webkit-text-stroke:0.45px #000;left:993.75px;width:1200px;text-align:center;transform:scaleX(1.0900);transform-origin:center center;">6.6</div>
<div class="t d" style="top:463px;font-size:19.6px;color:#000;-webkit-text-stroke:0.45px #000;left:368.75px;width:1200px;text-align:center;transform:scaleX(1.0900);transform-origin:center center;">0.0</div>
<div class="t d" style="top:463px;font-size:19.6px;color:#000;-webkit-text-stroke:0.45px #000;left:431.25px;width:1200px;text-align:center;transform:scaleX(1.0900);transform-origin:center center;">9.4</div>
<div class="t d" style="top:463px;font-size:19.6px;color:#000;-webkit-text-stroke:0.45px #000;left:493.75px;width:1200px;text-align:center;transform:scaleX(1.0900);transform-origin:center center;">14.5</div>
<div class="t d" style="top:463px;font-size:19.6px;color:#000;-webkit-text-stroke:0.45px #000;left:556.25px;width:1200px;text-align:center;transform:scaleX(1.0900);transform-origin:center center;">8.5</div>
<div class="t d" style="top:463px;font-size:19.6px;color:#000;-webkit-text-stroke:0.45px #000;left:618.75px;width:1200px;text-align:center;transform:scaleX(1.0900);transform-origin:center center;">11.6</div>
<div class="t d" style="top:463px;font-size:19.6px;color:#000;-webkit-text-stroke:0.45px #000;left:743.75px;width:1200px;text-align:center;transform:scaleX(1.0900);transform-origin:center center;">23.2</div>
<div class="t d" style="top:463px;font-size:19.6px;color:#000;-webkit-text-stroke:0.45px #000;left:806.25px;width:1200px;text-align:center;transform:scaleX(1.0900);transform-origin:center center;">18.1</div>
<div class="t d" style="top:463px;font-size:19.6px;color:#000;-webkit-text-stroke:0.45px #000;left:868.75px;width:1200px;text-align:center;transform:scaleX(1.0900);transform-origin:center center;">17.9</div>
<div class="t d" style="top:463px;font-size:19.6px;color:#000;-webkit-text-stroke:0.45px #000;left:931.25px;width:1200px;text-align:center;transform:scaleX(1.0900);transform-origin:center center;">9.4</div>
<div class="t d" style="top:463px;font-size:19.6px;color:#000;-webkit-text-stroke:0.45px #000;left:993.75px;width:1200px;text-align:center;transform:scaleX(1.0900);transform-origin:center center;">7.8</div>
<div class="t d" style="top:506px;font-size:19.6px;color:#000;-webkit-text-stroke:0.45px #000;left:368.75px;width:1200px;text-align:center;transform:scaleX(1.0900);transform-origin:center center;">0.0</div>
<div class="t d" style="top:506px;font-size:19.6px;color:#000;-webkit-text-stroke:0.45px #000;left:431.25px;width:1200px;text-align:center;transform:scaleX(1.0900);transform-origin:center center;">6.2</div>
<div class="t d" style="top:506px;font-size:19.6px;color:#000;-webkit-text-stroke:0.45px #000;left:493.75px;width:1200px;text-align:center;transform:scaleX(1.0900);transform-origin:center center;">14.3</div>
<div class="t d" style="top:506px;font-size:19.6px;color:#000;-webkit-text-stroke:0.45px #000;left:556.25px;width:1200px;text-align:center;transform:scaleX(1.0900);transform-origin:center center;">9.6</div>
<div class="t d" style="top:506px;font-size:19.6px;color:#000;-webkit-text-stroke:0.45px #000;left:618.75px;width:1200px;text-align:center;transform:scaleX(1.0900);transform-origin:center center;">8.5</div>
<div class="t d" style="top:506px;font-size:19.6px;color:#000;-webkit-text-stroke:0.45px #000;left:681.25px;width:1200px;text-align:center;transform:scaleX(1.0900);transform-origin:center center;">12.3</div>
<div class="t d" style="top:506px;font-size:19.6px;color:#000;-webkit-text-stroke:0.45px #000;left:806.25px;width:1200px;text-align:center;transform:scaleX(1.0900);transform-origin:center center;">31.0</div>
<div class="t d" style="top:506px;font-size:19.6px;color:#000;-webkit-text-stroke:0.45px #000;left:868.75px;width:1200px;text-align:center;transform:scaleX(1.0900);transform-origin:center center;">23.0</div>
<div class="t d" style="top:506px;font-size:19.6px;color:#000;-webkit-text-stroke:0.45px #000;left:931.25px;width:1200px;text-align:center;transform:scaleX(1.0900);transform-origin:center center;">13.3</div>
<div class="t d" style="top:506px;font-size:19.6px;color:#000;-webkit-text-stroke:0.45px #000;left:993.75px;width:1200px;text-align:center;transform:scaleX(1.0900);transform-origin:center center;">11.6</div>
<div class="t d" style="top:547px;font-size:19.6px;color:#000;-webkit-text-stroke:0.45px #000;left:368.75px;width:1200px;text-align:center;transform:scaleX(1.0900);transform-origin:center center;">0.0</div>
<div class="t d" style="top:547px;font-size:19.6px;color:#000;-webkit-text-stroke:0.45px #000;left:431.25px;width:1200px;text-align:center;transform:scaleX(1.0900);transform-origin:center center;">3.8</div>
<div class="t d" style="top:547px;font-size:19.6px;color:#000;-webkit-text-stroke:0.45px #000;left:493.75px;width:1200px;text-align:center;transform:scaleX(1.0900);transform-origin:center center;">11.6</div>
<div class="t d" style="top:547px;font-size:19.6px;color:#000;-webkit-text-stroke:0.45px #000;left:556.25px;width:1200px;text-align:center;transform:scaleX(1.0900);transform-origin:center center;">14.6</div>
<div class="t d" style="top:547px;font-size:19.6px;color:#000;-webkit-text-stroke:0.45px #000;left:618.75px;width:1200px;text-align:center;transform:scaleX(1.0900);transform-origin:center center;">11.3</div>
<div class="t d" style="top:547px;font-size:19.6px;color:#000;-webkit-text-stroke:0.45px #000;left:681.25px;width:1200px;text-align:center;transform:scaleX(1.0900);transform-origin:center center;">12.4</div>
<div class="t d" style="top:547px;font-size:19.6px;color:#000;-webkit-text-stroke:0.45px #000;left:743.75px;width:1200px;text-align:center;transform:scaleX(1.0900);transform-origin:center center;">15.8</div>
<div class="t d" style="top:547px;font-size:19.6px;color:#000;-webkit-text-stroke:0.45px #000;left:868.75px;width:1200px;text-align:center;transform:scaleX(1.0900);transform-origin:center center;">39.8</div>
<div class="t d" style="top:547px;font-size:19.6px;color:#000;-webkit-text-stroke:0.45px #000;left:931.25px;width:1200px;text-align:center;transform:scaleX(1.0900);transform-origin:center center;">18.6</div>
<div class="t d" style="top:547px;font-size:19.6px;color:#000;-webkit-text-stroke:0.45px #000;left:993.75px;width:1200px;text-align:center;transform:scaleX(1.0900);transform-origin:center center;">11.4</div>
<div class="t d" style="top:587px;font-size:19.6px;color:#000;-webkit-text-stroke:0.45px #000;left:368.75px;width:1200px;text-align:center;transform:scaleX(1.0900);transform-origin:center center;">0.0</div>
<div class="t d" style="top:587px;font-size:19.6px;color:#000;-webkit-text-stroke:0.45px #000;left:431.25px;width:1200px;text-align:center;transform:scaleX(1.0900);transform-origin:center center;">1.7</div>
<div class="t d" style="top:587px;font-size:19.6px;color:#000;-webkit-text-stroke:0.45px #000;left:493.75px;width:1200px;text-align:center;transform:scaleX(1.0900);transform-origin:center center;">7.5</div>
<div class="t d" style="top:587px;font-size:19.6px;color:#000;-webkit-text-stroke:0.45px #000;left:556.25px;width:1200px;text-align:center;transform:scaleX(1.0900);transform-origin:center center;">15.9</div>
<div class="t d" style="top:587px;font-size:19.6px;color:#000;-webkit-text-stroke:0.45px #000;left:618.75px;width:1200px;text-align:center;transform:scaleX(1.0900);transform-origin:center center;">14.9</div>
<div class="t d" style="top:587px;font-size:19.6px;color:#000;-webkit-text-stroke:0.45px #000;left:681.25px;width:1200px;text-align:center;transform:scaleX(1.0900);transform-origin:center center;">15.9</div>
<div class="t d" style="top:587px;font-size:19.6px;color:#000;-webkit-text-stroke:0.45px #000;left:743.75px;width:1200px;text-align:center;transform:scaleX(1.0900);transform-origin:center center;">16.2</div>
<div class="t d" style="top:587px;font-size:19.6px;color:#000;-webkit-text-stroke:0.45px #000;left:806.25px;width:1200px;text-align:center;transform:scaleX(1.0900);transform-origin:center center;">24.0</div>
<div class="t d" style="top:587px;font-size:19.6px;color:#000;-webkit-text-stroke:0.45px #000;left:931.25px;width:1200px;text-align:center;transform:scaleX(1.0900);transform-origin:center center;">42.0</div>
<div class="t d" style="top:587px;font-size:19.6px;color:#000;-webkit-text-stroke:0.45px #000;left:993.75px;width:1200px;text-align:center;transform:scaleX(1.0900);transform-origin:center center;">16.1</div>
<div class="t d" style="top:626px;font-size:19.6px;color:#000;-webkit-text-stroke:0.45px #000;left:368.75px;width:1200px;text-align:center;transform:scaleX(1.0900);transform-origin:center center;">0.0</div>
<div class="t d" style="top:626px;font-size:19.6px;color:#000;-webkit-text-stroke:0.45px #000;left:431.25px;width:1200px;text-align:center;transform:scaleX(1.0900);transform-origin:center center;">0.0</div>
<div class="t d" style="top:626px;font-size:19.6px;color:#000;-webkit-text-stroke:0.45px #000;left:493.75px;width:1200px;text-align:center;transform:scaleX(1.0900);transform-origin:center center;">3.5</div>
<div class="t d" style="top:626px;font-size:19.6px;color:#000;-webkit-text-stroke:0.45px #000;left:556.25px;width:1200px;text-align:center;transform:scaleX(1.0900);transform-origin:center center;">9.3</div>
<div class="t d" style="top:626px;font-size:19.6px;color:#000;-webkit-text-stroke:0.45px #000;left:618.75px;width:1200px;text-align:center;transform:scaleX(1.0900);transform-origin:center center;">15.8</div>
<div class="t d" style="top:626px;font-size:19.6px;color:#000;-webkit-text-stroke:0.45px #000;left:681.25px;width:1200px;text-align:center;transform:scaleX(1.0900);transform-origin:center center;">16.8</div>
<div class="t d" style="top:626px;font-size:19.6px;color:#000;-webkit-text-stroke:0.45px #000;left:743.75px;width:1200px;text-align:center;transform:scaleX(1.0900);transform-origin:center center;">16.0</div>
<div class="t d" style="top:626px;font-size:19.6px;color:#000;-webkit-text-stroke:0.45px #000;left:806.25px;width:1200px;text-align:center;transform:scaleX(1.0900);transform-origin:center center;">23.7</div>
<div class="t d" style="top:626px;font-size:19.6px;color:#000;-webkit-text-stroke:0.45px #000;left:868.75px;width:1200px;text-align:center;transform:scaleX(1.0900);transform-origin:center center;">34.0</div>
<div class="t d" style="top:626px;font-size:19.6px;color:#000;-webkit-text-stroke:0.45px #000;left:993.75px;width:1200px;text-align:center;transform:scaleX(1.0900);transform-origin:center center;">27.1</div>
<div class="t d" style="top:666px;font-size:19.6px;color:#000;-webkit-text-stroke:0.45px #000;left:368.75px;width:1200px;text-align:center;transform:scaleX(1.0900);transform-origin:center center;">0.0</div>
<div class="t d" style="top:666px;font-size:19.6px;color:#000;-webkit-text-stroke:0.45px #000;left:431.25px;width:1200px;text-align:center;transform:scaleX(1.0900);transform-origin:center center;">0.0</div>
<div class="t d" style="top:666px;font-size:19.6px;color:#000;-webkit-text-stroke:0.45px #000;left:493.75px;width:1200px;text-align:center;transform:scaleX(1.0900);transform-origin:center center;">0.0</div>
<div class="t d" style="top:666px;font-size:19.6px;color:#000;-webkit-text-stroke:0.45px #000;left:556.25px;width:1200px;text-align:center;transform:scaleX(1.0900);transform-origin:center center;">2.7</div>
<div class="t d" style="top:666px;font-size:19.6px;color:#000;-webkit-text-stroke:0.45px #000;left:618.75px;width:1200px;text-align:center;transform:scaleX(1.0900);transform-origin:center center;">7.8</div>
<div class="t d" style="top:666px;font-size:19.6px;color:#000;-webkit-text-stroke:0.45px #000;left:681.25px;width:1200px;text-align:center;transform:scaleX(1.0900);transform-origin:center center;">15.0</div>
<div class="t d" style="top:666px;font-size:19.6px;color:#000;-webkit-text-stroke:0.45px #000;left:743.75px;width:1200px;text-align:center;transform:scaleX(1.0900);transform-origin:center center;">14.6</div>
<div class="t d" style="top:666px;font-size:19.6px;color:#000;-webkit-text-stroke:0.45px #000;left:806.25px;width:1200px;text-align:center;transform:scaleX(1.0900);transform-origin:center center;">20.7</div>
<div class="t d" style="top:666px;font-size:19.6px;color:#000;-webkit-text-stroke:0.45px #000;left:868.75px;width:1200px;text-align:center;transform:scaleX(1.0900);transform-origin:center center;">34.4</div>
<div class="t d" style="top:666px;font-size:19.6px;color:#000;-webkit-text-stroke:0.45px #000;left:931.25px;width:1200px;text-align:center;transform:scaleX(1.0900);transform-origin:center center;">71.1</div>
<div class="t" style="left:1849.14px;top:61.18px;font-size:43.5px;color:#000;-webkit-text-stroke:0.6px #000;transform:scaleX(0.9291);transform-origin:left center;">CUMULATIVE DEVIATION</div>
<div class="t" style="left:1844.02px;top:119.78px;font-size:24.6px;color:#000;font-style:italic;-webkit-text-stroke:0.3px #000;transform:scaleX(0.9753);transform-origin:left center;">How Close Response Gets To Ideal Response</div>
<div class="t" style="left:1755px;top:159.99px;font-size:26px;color:#000;-webkit-text-stroke:0.4px #000;transform:scaleX(1.0000);transform-origin:left center;">To</div>
<div class="t" style="left:1605.8px;top:270px;width:120px;height:30px;line-height:30px;text-align:center;font-size:27px;color:#000;-webkit-text-stroke:0.4px #000;transform:rotate(-90deg);">From</div>
<div class="b" style="left:1750px;top:190px;width:688px;height:44px;background:#f2f2f2;"></div>
<div class="t" style="left:1791.85px;top:203px;font-size:26px;color:#333;-webkit-text-stroke:0.45px #333;transform:scaleX(1.1538);transform-origin:left center;">0</div>
<div class="vl" style="left:1812px;top:190px;width:0px;height:43px;"></div>
<div class="t" style="left:1838.89px;top:203px;font-size:26px;color:#333;-webkit-text-stroke:0.45px #333;transform:scaleX(1.1111);transform-origin:left center;">26</div>
<div class="vl" style="left:1875px;top:190px;width:0px;height:43px;"></div>
<div class="t" style="left:1901.19px;top:203px;font-size:26px;color:#333;-webkit-text-stroke:0.45px #333;transform:scaleX(1.0111);transform-origin:left center;">51</div>
<div class="vl" style="left:1937px;top:190px;width:0px;height:43px;"></div>
<div class="t" style="left:1964.74px;top:203px;font-size:26px;color:#333;-webkit-text-stroke:0.45px #333;transform:scaleX(1.0630);transform-origin:left center;">77</div>
<div class="vl" style="left:2000px;top:190px;width:0px;height:43px;"></div>
<div class="t" style="left:2014.48px;top:203px;font-size:26px;color:#333;-webkit-text-stroke:0.45px #333;transform:scaleX(1.0122);transform-origin:left center;">102</div>
<div class="vl" style="left:2062px;top:190px;width:0px;height:43px;"></div>
<div class="t" style="left:2077px;top:203px;font-size:26px;color:#333;-webkit-text-stroke:0.45px #333;transform:scaleX(1.0000);transform-origin:left center;">128</div>
<div class="vl" style="left:2125px;top:190px;width:0px;height:43px;"></div>
<div class="t" style="left:2139.29px;top:203px;font-size:26px;color:#333;-webkit-text-stroke:0.45px #333;transform:scaleX(1.0049);transform-origin:left center;">153</div>
<div class="vl" style="left:2187px;top:190px;width:0px;height:43px;"></div>
<div class="t" style="left:2202px;top:203px;font-size:26px;color:#333;-webkit-text-stroke:0.45px #333;transform:scaleX(1.0000);transform-origin:left center;">179</div>
<div class="vl" style="left:2250px;top:190px;width:0px;height:43px;"></div>
<div class="t" style="left:2260.65px;top:203px;font-size:26px;color:#333;-webkit-text-stroke:0.45px #333;transform:scaleX(1.1012);transform-origin:left center;">204</div>
<div class="vl" style="left:2312px;top:190px;width:0px;height:43px;"></div>
<div class="t" style="left:2323.15px;top:203px;font-size:26px;color:#333;-webkit-text-stroke:0.45px #333;transform:scaleX(1.1012);transform-origin:left center;">230</div>
<div class="vl" style="left:2375px;top:190px;width:0px;height:43px;"></div>
<div class="t" style="left:2385.65px;top:203px;font-size:26px;color:#333;-webkit-text-stroke:0.45px #333;transform:scaleX(1.1012);transform-origin:left center;">255</div>
<div class="b" style="left:1687px;top:233px;width:64px;height:461px;background:#f2f2f2;"></div>
<div class="t" style="left:1729.35px;top:246px;font-size:26px;color:#333;-webkit-text-stroke:0.45px #333;transform:scaleX(1.1538);transform-origin:left center;">0</div>
<div class="hl" style="left:1687px;top:276px;width:63px;height:0px;"></div>
<div class="t" style="left:1713.89px;top:289px;font-size:26px;color:#333;-webkit-text-stroke:0.45px #333;transform:scaleX(1.1111);transform-origin:left center;">26</div>
<div class="hl" style="left:1687px;top:319px;width:63px;height:0px;"></div>
<div class="t" style="left:1713.69px;top:332px;font-size:26px;color:#333;-webkit-text-stroke:0.45px #333;transform:scaleX(1.0111);transform-origin:left center;">51</div>
<div class="hl" style="left:1687px;top:362px;width:63px;height:0px;"></div>
<div class="t" style="left:1714.74px;top:375px;font-size:26px;color:#333;-webkit-text-stroke:0.45px #333;transform:scaleX(1.0630);transform-origin:left center;">77</div>
<div class="hl" style="left:1687px;top:405px;width:63px;height:0px;"></div>
<div class="t" style="left:1701.98px;top:418px;font-size:26px;color:#333;-webkit-text-stroke:0.45px #333;transform:scaleX(1.0122);transform-origin:left center;">102</div>
<div class="hl" style="left:1687px;top:448px;width:63px;height:0px;"></div>
<div class="t" style="left:1702px;top:461px;font-size:26px;color:#333;-webkit-text-stroke:0.45px #333;transform:scaleX(1.0000);transform-origin:left center;">128</div>
<div class="hl" style="left:1687px;top:491px;width:63px;height:0px;"></div>
<div class="t" style="left:1701.79px;top:504px;font-size:26px;color:#333;-webkit-text-stroke:0.45px #333;transform:scaleX(1.0049);transform-origin:left center;">153</div>
<div class="hl" style="left:1687px;top:534px;width:63px;height:0px;"></div>
<div class="t" style="left:1702px;top:544px;font-size:26px;color:#333;-webkit-text-stroke:0.45px #333;transform:scaleX(1.0000);transform-origin:left center;">179</div>
<div class="hl" style="left:1687px;top:574px;width:63px;height:0px;"></div>
<div class="t" style="left:1698.15px;top:583px;font-size:26px;color:#333;-webkit-text-stroke:0.45px #333;transform:scaleX(1.1012);transform-origin:left center;">204</div>
<div class="hl" style="left:1687px;top:613px;width:63px;height:0px;"></div>
<div class="t" style="left:1698.15px;top:623px;font-size:26px;color:#333;-webkit-text-stroke:0.45px #333;transform:scaleX(1.1012);transform-origin:left center;">230</div>
<div class="hl" style="left:1687px;top:653px;width:63px;height:0px;"></div>
<div class="t" style="left:1698.15px;top:663px;font-size:26px;color:#333;-webkit-text-stroke:0.45px #333;transform:scaleX(1.1012);transform-origin:left center;">255</div>
<div class="ob" style="left:1750px;top:233px;width:688px;height:461px;"></div>
<div style="left:1812px;top:234px;width:63px;height:42px;background:#ffd165;"></div>
<div style="left:1875px;top:234px;width:62px;height:42px;background:#ffd866;"></div>
<div style="left:1937px;top:234px;width:63px;height:42px;background:#f5d765;"></div>
<div style="left:2000px;top:234px;width:62px;height:42px;background:#dcd363;"></div>
<div style="left:2062px;top:234px;width:63px;height:42px;background:#d9d363;"></div>
<div style="left:2125px;top:234px;width:62px;height:42px;background:#bbce60;"></div>
<div style="left:2187px;top:234px;width:63px;height:42px;background:#e9d564;"></div>
<div style="left:2250px;top:234px;width:62px;height:42px;background:#ffd966;"></div>
<div style="left:2312px;top:234px;width:63px;height:42px;background:#ffcf64;"></div>
<div style="left:2375px;top:234px;width:62px;height:42px;background:#c1cf61;"></div>
<div style="left:1751px;top:276px;width:61px;height:43px;background:#00b050;"></div>
<div style="left:1875px;top:276px;width:62px;height:43px;background:#bace60;"></div>
<div style="left:1937px;top:276px;width:63px;height:43px;background:#fbd866;"></div>
<div style="left:2000px;top:276px;width:62px;height:43px;background:#cdd162;"></div>
<div style="left:2062px;top:276px;width:63px;height:43px;background:#c3cf61;"></div>
<div style="left:2125px;top:276px;width:62px;height:43px;background:#b6cd60;"></div>
<div style="left:2187px;top:276px;width:63px;height:43px;background:#adcc5f;"></div>
<div style="left:2250px;top:276px;width:62px;height:43px;background:#c0cf61;"></div>
<div style="left:2312px;top:276px;width:63px;height:43px;background:#e2d464;"></div>
<div style="left:2375px;top:276px;width:62px;height:43px;background:#b1cc5f;"></div>
<div style="left:1751px;top:319px;width:61px;height:43px;background:#00b050;"></div>
<div style="left:1812px;top:319px;width:63px;height:43px;background:#ffd265;"></div>
<div style="left:1937px;top:319px;width:63px;height:43px;background:#ffd565;"></div>
<div style="left:2000px;top:319px;width:62px;height:43px;background:#c3cf61;"></div>
<div style="left:2062px;top:319px;width:63px;height:43px;background:#94c85d;"></div>
<div style="left:2125px;top:319px;width:62px;height:43px;background:#95c85d;"></div>
<div style="left:2187px;top:319px;width:63px;height:43px;background:#ddd363;"></div>
<div style="left:2250px;top:319px;width:62px;height:43px;background:#b2cd5f;"></div>
<div style="left:2312px;top:319px;width:63px;height:43px;background:#cfd162;"></div>
<div style="left:2375px;top:319px;width:62px;height:43px;background:#b2cd5f;"></div>
<div style="left:1751px;top:362px;width:61px;height:43px;background:#00b050;"></div>
<div style="left:1812px;top:362px;width:63px;height:43px;background:#ffb560;"></div>
<div style="left:1875px;top:362px;width:62px;height:43px;background:#34b855;"></div>
<div style="left:2000px;top:362px;width:62px;height:43px;background:#6dc259;"></div>
<div style="left:2062px;top:362px;width:63px;height:43px;background:#87c65c;"></div>
<div style="left:2125px;top:362px;width:62px;height:43px;background:#a1ca5e;"></div>
<div style="left:2187px;top:362px;width:63px;height:43px;background:#afcc5f;"></div>
<div style="left:2250px;top:362px;width:62px;height:43px;background:#a8cb5f;"></div>
<div style="left:2312px;top:362px;width:63px;height:43px;background:#c9d061;"></div>
<div style="left:2375px;top:362px;width:62px;height:43px;background:#c4d061;"></div>
<div style="left:1751px;top:405px;width:61px;height:43px;background:#00b050;"></div>
<div style="left:1812px;top:405px;width:63px;height:43px;background:#f0d765;"></div>
<div style="left:1875px;top:405px;width:62px;height:43px;background:#adcc5f;"></div>
<div style="left:1937px;top:405px;width:63px;height:43px;background:#40ba56;"></div>
<div style="left:2062px;top:405px;width:63px;height:43px;background:#80c55b;"></div>
<div style="left:2125px;top:405px;width:62px;height:43px;background:#88c65c;"></div>
<div style="left:2187px;top:405px;width:63px;height:43px;background:#bbce60;"></div>
<div style="left:2250px;top:405px;width:62px;height:43px;background:#e3d464;"></div>
<div style="left:2312px;top:405px;width:63px;height:43px;background:#cdd162;"></div>
<div style="left:2375px;top:405px;width:62px;height:43px;background:#82c55b;"></div>
<div style="left:1751px;top:448px;width:61px;height:43px;background:#00b050;"></div>
<div style="left:1812px;top:448px;width:63px;height:43px;background:#9ac95d;"></div>
<div style="left:1875px;top:448px;width:62px;height:43px;background:#ffd565;"></div>
<div style="left:1937px;top:448px;width:63px;height:43px;background:#63c059;"></div>
<div style="left:2000px;top:448px;width:62px;height:43px;background:#5ebf58;"></div>
<div style="left:2125px;top:448px;width:62px;height:43px;background:#bbce60;"></div>
<div style="left:2187px;top:448px;width:63px;height:43px;background:#ffc162;"></div>
<div style="left:2250px;top:448px;width:62px;height:43px;background:#ffb260;"></div>
<div style="left:2312px;top:448px;width:63px;height:43px;background:#c8d061;"></div>
<div style="left:2375px;top:448px;width:62px;height:43px;background:#98c85d;"></div>
<div style="left:1751px;top:491px;width:61px;height:43px;background:#00b050;"></div>
<div style="left:1812px;top:491px;width:63px;height:43px;background:#54be57;"></div>
<div style="left:1875px;top:491px;width:62px;height:43px;background:#ffd565;"></div>
<div style="left:1937px;top:491px;width:63px;height:43px;background:#81c55b;"></div>
<div style="left:2000px;top:491px;width:62px;height:43px;background:#6fc25a;"></div>
<div style="left:2062px;top:491px;width:63px;height:43px;background:#7ec45b;"></div>
<div style="left:2187px;top:491px;width:63px;height:43px;background:#b9ce60;"></div>
<div style="left:2250px;top:491px;width:62px;height:43px;background:#b0cc5f;"></div>
<div style="left:2312px;top:491px;width:63px;height:43px;background:#b5cd60;"></div>
<div style="left:2375px;top:491px;width:62px;height:43px;background:#6ec259;"></div>
<div style="left:1751px;top:534px;width:61px;height:40px;background:#00b050;"></div>
<div style="left:1812px;top:534px;width:63px;height:40px;background:#30b854;"></div>
<div style="left:1875px;top:534px;width:62px;height:40px;background:#e2d464;"></div>
<div style="left:1937px;top:534px;width:63px;height:40px;background:#ffca64;"></div>
<div style="left:2000px;top:534px;width:62px;height:40px;background:#b5cd60;"></div>
<div style="left:2062px;top:534px;width:63px;height:40px;background:#7ac45b;"></div>
<div style="left:2125px;top:534px;width:62px;height:40px;background:#73c25a;"></div>
<div style="left:2250px;top:534px;width:62px;height:40px;background:#98c85d;"></div>
<div style="left:2312px;top:534px;width:63px;height:40px;background:#ebd664;"></div>
<div style="left:2375px;top:534px;width:62px;height:40px;background:#9ac95d;"></div>
<div style="left:1751px;top:574px;width:61px;height:39px;background:#06b151;"></div>
<div style="left:1812px;top:574px;width:63px;height:39px;background:#3bb955;"></div>
<div style="left:1875px;top:574px;width:62px;height:39px;background:#90c75c;"></div>
<div style="left:1937px;top:574px;width:63px;height:39px;background:#ffc162;"></div>
<div style="left:2000px;top:574px;width:62px;height:39px;background:#ffb961;"></div>
<div style="left:2062px;top:574px;width:63px;height:39px;background:#ffbb61;"></div>
<div style="left:2125px;top:574px;width:62px;height:39px;background:#8cc75c;"></div>
<div style="left:2187px;top:574px;width:63px;height:39px;background:#9fca5e;"></div>
<div style="left:2312px;top:574px;width:63px;height:39px;background:#a4ca5e;"></div>
<div style="left:2375px;top:574px;width:62px;height:39px;background:#b3cd5f;"></div>
<div style="left:1751px;top:613px;width:61px;height:40px;background:#15b352;"></div>
<div style="left:1812px;top:613px;width:63px;height:40px;background:#54be57;"></div>
<div style="left:1875px;top:613px;width:62px;height:40px;background:#67c159;"></div>
<div style="left:1937px;top:613px;width:63px;height:40px;background:#ded463;"></div>
<div style="left:2000px;top:613px;width:62px;height:40px;background:#ffcf64;"></div>
<div style="left:2062px;top:613px;width:63px;height:40px;background:#ff9e5c;"></div>
<div style="left:2125px;top:613px;width:62px;height:40px;background:#ffc663;"></div>
<div style="left:2187px;top:613px;width:63px;height:40px;background:#bbce60;"></div>
<div style="left:2250px;top:613px;width:62px;height:40px;background:#b1cc5f;"></div>
<div style="left:2375px;top:613px;width:62px;height:40px;background:#c0cf61;"></div>
<div style="left:1751px;top:653px;width:61px;height:40px;background:#37b955;"></div>
<div style="left:1812px;top:653px;width:63px;height:40px;background:#a5cb5e;"></div>
<div style="left:1875px;top:653px;width:62px;height:40px;background:#b5cd60;"></div>
<div style="left:1937px;top:653px;width:63px;height:40px;background:#c4d061;"></div>
<div style="left:2000px;top:653px;width:62px;height:40px;background:#ffd065;"></div>
<div style="left:2062px;top:653px;width:63px;height:40px;background:#ffb961;"></div>
<div style="left:2125px;top:653px;width:62px;height:40px;background:#ffae5f;"></div>
<div style="left:2187px;top:653px;width:63px;height:40px;background:#ffc563;"></div>
<div style="left:2250px;top:653px;width:62px;height:40px;background:#ff6253;"></div>
<div style="left:2312px;top:653px;width:63px;height:40px;background:#ebd664;"></div>
<div class="t d" style="top:248px;font-size:19.6px;color:#000;-webkit-text-stroke:0.3px #000;left:1243.75px;width:1200px;text-align:center;transform:scaleX(1.1700);transform-origin:center center;">530</div>
<div class="t d" style="top:248px;font-size:19.6px;color:#000;-webkit-text-stroke:0.3px #000;left:1306.25px;width:1200px;text-align:center;transform:scaleX(1.1700);transform-origin:center center;">503</div>
<div class="t d" style="top:248px;font-size:19.6px;color:#000;-webkit-text-stroke:0.3px #000;left:1368.75px;width:1200px;text-align:center;transform:scaleX(1.1700);transform-origin:center center;">485</div>
<div class="t d" style="top:248px;font-size:19.6px;color:#000;-webkit-text-stroke:0.3px #000;left:1431.25px;width:1200px;text-align:center;transform:scaleX(1.1700);transform-origin:center center;">445</div>
<div class="t d" style="top:248px;font-size:19.6px;color:#000;-webkit-text-stroke:0.3px #000;left:1493.75px;width:1200px;text-align:center;transform:scaleX(1.1700);transform-origin:center center;">441</div>
<div class="t d" style="top:248px;font-size:19.6px;color:#000;-webkit-text-stroke:0.3px #000;left:1556.25px;width:1200px;text-align:center;transform:scaleX(1.1700);transform-origin:center center;">394</div>
<div class="t d" style="top:248px;font-size:19.6px;color:#000;-webkit-text-stroke:0.3px #000;left:1618.75px;width:1200px;text-align:center;transform:scaleX(1.1700);transform-origin:center center;">465</div>
<div class="t d" style="top:248px;font-size:19.6px;color:#000;-webkit-text-stroke:0.3px #000;left:1681.25px;width:1200px;text-align:center;transform:scaleX(1.1700);transform-origin:center center;">500</div>
<div class="t d" style="top:248px;font-size:19.6px;color:#000;-webkit-text-stroke:0.3px #000;left:1743.75px;width:1200px;text-align:center;transform:scaleX(1.1700);transform-origin:center center;">537</div>
<div class="t d" style="top:248px;font-size:19.6px;color:#000;-webkit-text-stroke:0.3px #000;left:1806.25px;width:1200px;text-align:center;transform:scaleX(1.1700);transform-origin:center center;">403</div>
<div class="t d" style="top:291px;font-size:19.6px;color:#000;-webkit-text-stroke:0.3px #000;left:1181.25px;width:1200px;text-align:center;transform:scaleX(1.1700);transform-origin:center center;">53</div>
<div class="t d" style="top:291px;font-size:19.6px;color:#000;-webkit-text-stroke:0.3px #000;left:1306.25px;width:1200px;text-align:center;transform:scaleX(1.1700);transform-origin:center center;">392</div>
<div class="t d" style="top:291px;font-size:19.6px;color:#000;-webkit-text-stroke:0.3px #000;left:1368.75px;width:1200px;text-align:center;transform:scaleX(1.1700);transform-origin:center center;">494</div>
<div class="t d" style="top:291px;font-size:19.6px;color:#000;-webkit-text-stroke:0.3px #000;left:1431.25px;width:1200px;text-align:center;transform:scaleX(1.1700);transform-origin:center center;">422</div>
<div class="t d" style="top:291px;font-size:19.6px;color:#000;-webkit-text-stroke:0.3px #000;left:1493.75px;width:1200px;text-align:center;transform:scaleX(1.1700);transform-origin:center center;">406</div>
<div class="t d" style="top:291px;font-size:19.6px;color:#000;-webkit-text-stroke:0.3px #000;left:1556.25px;width:1200px;text-align:center;transform:scaleX(1.1700);transform-origin:center center;">386</div>
<div class="t d" style="top:291px;font-size:19.6px;color:#000;-webkit-text-stroke:0.3px #000;left:1618.75px;width:1200px;text-align:center;transform:scaleX(1.1700);transform-origin:center center;">371</div>
<div class="t d" style="top:291px;font-size:19.6px;color:#000;-webkit-text-stroke:0.3px #000;left:1681.25px;width:1200px;text-align:center;transform:scaleX(1.1700);transform-origin:center center;">401</div>
<div class="t d" style="top:291px;font-size:19.6px;color:#000;-webkit-text-stroke:0.3px #000;left:1743.75px;width:1200px;text-align:center;transform:scaleX(1.1700);transform-origin:center center;">455</div>
<div class="t d" style="top:291px;font-size:19.6px;color:#000;-webkit-text-stroke:0.3px #000;left:1806.25px;width:1200px;text-align:center;transform:scaleX(1.1700);transform-origin:center center;">377</div>
<div class="t d" style="top:334px;font-size:19.6px;color:#000;-webkit-text-stroke:0.3px #000;left:1181.25px;width:1200px;text-align:center;transform:scaleX(1.1700);transform-origin:center center;">61</div>
<div class="t d" style="top:334px;font-size:19.6px;color:#000;-webkit-text-stroke:0.3px #000;left:1243.75px;width:1200px;text-align:center;transform:scaleX(1.1700);transform-origin:center center;">524</div>
<div class="t d" style="top:334px;font-size:19.6px;color:#000;-webkit-text-stroke:0.3px #000;left:1368.75px;width:1200px;text-align:center;transform:scaleX(1.1700);transform-origin:center center;">514</div>
<div class="t d" style="top:334px;font-size:19.6px;color:#000;-webkit-text-stroke:0.3px #000;left:1431.25px;width:1200px;text-align:center;transform:scaleX(1.1700);transform-origin:center center;">406</div>
<div class="t d" style="top:334px;font-size:19.6px;color:#000;-webkit-text-stroke:0.3px #000;left:1493.75px;width:1200px;text-align:center;transform:scaleX(1.1700);transform-origin:center center;">332</div>
<div class="t d" style="top:334px;font-size:19.6px;color:#000;-webkit-text-stroke:0.3px #000;left:1556.25px;width:1200px;text-align:center;transform:scaleX(1.1700);transform-origin:center center;">333</div>
<div class="t d" style="top:334px;font-size:19.6px;color:#000;-webkit-text-stroke:0.3px #000;left:1618.75px;width:1200px;text-align:center;transform:scaleX(1.1700);transform-origin:center center;">446</div>
<div class="t d" style="top:334px;font-size:19.6px;color:#000;-webkit-text-stroke:0.3px #000;left:1681.25px;width:1200px;text-align:center;transform:scaleX(1.1700);transform-origin:center center;">379</div>
<div class="t d" style="top:334px;font-size:19.6px;color:#000;-webkit-text-stroke:0.3px #000;left:1743.75px;width:1200px;text-align:center;transform:scaleX(1.1700);transform-origin:center center;">425</div>
<div class="t d" style="top:334px;font-size:19.6px;color:#000;-webkit-text-stroke:0.3px #000;left:1806.25px;width:1200px;text-align:center;transform:scaleX(1.1700);transform-origin:center center;">379</div>
<div class="t d" style="top:377px;font-size:19.6px;color:#000;-webkit-text-stroke:0.3px #000;left:1181.25px;width:1200px;text-align:center;transform:scaleX(1.1700);transform-origin:center center;">70</div>
<div class="t d" style="top:377px;font-size:19.6px;color:#000;-webkit-text-stroke:0.3px #000;left:1243.75px;width:1200px;text-align:center;transform:scaleX(1.1700);transform-origin:center center;">630</div>
<div class="t d" style="top:377px;font-size:19.6px;color:#000;-webkit-text-stroke:0.3px #000;left:1306.25px;width:1200px;text-align:center;transform:scaleX(1.1700);transform-origin:center center;">182</div>
<div class="t d" style="top:377px;font-size:19.6px;color:#000;-webkit-text-stroke:0.3px #000;left:1431.25px;width:1200px;text-align:center;transform:scaleX(1.1700);transform-origin:center center;">271</div>
<div class="t d" style="top:377px;font-size:19.6px;color:#000;-webkit-text-stroke:0.3px #000;left:1493.75px;width:1200px;text-align:center;transform:scaleX(1.1700);transform-origin:center center;">311</div>
<div class="t d" style="top:377px;font-size:19.6px;color:#000;-webkit-text-stroke:0.3px #000;left:1556.25px;width:1200px;text-align:center;transform:scaleX(1.1700);transform-origin:center center;">352</div>
<div class="t d" style="top:377px;font-size:19.6px;color:#000;-webkit-text-stroke:0.3px #000;left:1618.75px;width:1200px;text-align:center;transform:scaleX(1.1700);transform-origin:center center;">375</div>
<div class="t d" style="top:377px;font-size:19.6px;color:#000;-webkit-text-stroke:0.3px #000;left:1681.25px;width:1200px;text-align:center;transform:scaleX(1.1700);transform-origin:center center;">364</div>
<div class="t d" style="top:377px;font-size:19.6px;color:#000;-webkit-text-stroke:0.3px #000;left:1743.75px;width:1200px;text-align:center;transform:scaleX(1.1700);transform-origin:center center;">415</div>
<div class="t d" style="top:377px;font-size:19.6px;color:#000;-webkit-text-stroke:0.3px #000;left:1806.25px;width:1200px;text-align:center;transform:scaleX(1.1700);transform-origin:center center;">408</div>
<div class="t d" style="top:420px;font-size:19.6px;color:#000;-webkit-text-stroke:0.3px #000;left:1181.25px;width:1200px;text-align:center;transform:scaleX(1.1700);transform-origin:center center;">75</div>
<div class="t d" style="top:420px;font-size:19.6px;color:#000;-webkit-text-stroke:0.3px #000;left:1243.75px;width:1200px;text-align:center;transform:scaleX(1.1700);transform-origin:center center;">477</div>
<div class="t d" style="top:420px;font-size:19.6px;color:#000;-webkit-text-stroke:0.3px #000;left:1306.25px;width:1200px;text-align:center;transform:scaleX(1.1700);transform-origin:center center;">372</div>
<div class="t d" style="top:420px;font-size:19.6px;color:#000;-webkit-text-stroke:0.3px #000;left:1368.75px;width:1200px;text-align:center;transform:scaleX(1.1700);transform-origin:center center;">200</div>
<div class="t d" style="top:420px;font-size:19.6px;color:#000;-webkit-text-stroke:0.3px #000;left:1493.75px;width:1200px;text-align:center;transform:scaleX(1.1700);transform-origin:center center;">301</div>
<div class="t d" style="top:420px;font-size:19.6px;color:#000;-webkit-text-stroke:0.3px #000;left:1556.25px;width:1200px;text-align:center;transform:scaleX(1.1700);transform-origin:center center;">313</div>
<div class="t d" style="top:420px;font-size:19.6px;color:#000;-webkit-text-stroke:0.3px #000;left:1618.75px;width:1200px;text-align:center;transform:scaleX(1.1700);transform-origin:center center;">394</div>
<div class="t d" style="top:420px;font-size:19.6px;color:#000;-webkit-text-stroke:0.3px #000;left:1681.25px;width:1200px;text-align:center;transform:scaleX(1.1700);transform-origin:center center;">456</div>
<div class="t d" style="top:420px;font-size:19.6px;color:#000;-webkit-text-stroke:0.3px #000;left:1743.75px;width:1200px;text-align:center;transform:scaleX(1.1700);transform-origin:center center;">421</div>
<div class="t d" style="top:420px;font-size:19.6px;color:#000;-webkit-text-stroke:0.3px #000;left:1806.25px;width:1200px;text-align:center;transform:scaleX(1.1700);transform-origin:center center;">304</div>
<div class="t d" style="top:463px;font-size:19.6px;color:#000;-webkit-text-stroke:0.3px #000;left:1181.25px;width:1200px;text-align:center;transform:scaleX(1.1700);transform-origin:center center;">88</div>
<div class="t d" style="top:463px;font-size:19.6px;color:#000;-webkit-text-stroke:0.3px #000;left:1243.75px;width:1200px;text-align:center;transform:scaleX(1.1700);transform-origin:center center;">341</div>
<div class="t d" style="top:463px;font-size:19.6px;color:#000;-webkit-text-stroke:0.3px #000;left:1306.25px;width:1200px;text-align:center;transform:scaleX(1.1700);transform-origin:center center;">515</div>
<div class="t d" style="top:463px;font-size:19.6px;color:#000;-webkit-text-stroke:0.3px #000;left:1368.75px;width:1200px;text-align:center;transform:scaleX(1.1700);transform-origin:center center;">256</div>
<div class="t d" style="top:463px;font-size:19.6px;color:#000;-webkit-text-stroke:0.3px #000;left:1431.25px;width:1200px;text-align:center;transform:scaleX(1.1700);transform-origin:center center;">248</div>
<div class="t d" style="top:463px;font-size:19.6px;color:#000;-webkit-text-stroke:0.3px #000;left:1556.25px;width:1200px;text-align:center;transform:scaleX(1.1700);transform-origin:center center;">394</div>
<div class="t d" style="top:463px;font-size:19.6px;color:#000;-webkit-text-stroke:0.3px #000;left:1618.75px;width:1200px;text-align:center;transform:scaleX(1.1700);transform-origin:center center;">586</div>
<div class="t d" style="top:463px;font-size:19.6px;color:#000;-webkit-text-stroke:0.3px #000;left:1681.25px;width:1200px;text-align:center;transform:scaleX(1.1700);transform-origin:center center;">644</div>
<div class="t d" style="top:463px;font-size:19.6px;color:#000;-webkit-text-stroke:0.3px #000;left:1743.75px;width:1200px;text-align:center;transform:scaleX(1.1700);transform-origin:center center;">413</div>
<div class="t d" style="top:463px;font-size:19.6px;color:#000;-webkit-text-stroke:0.3px #000;left:1806.25px;width:1200px;text-align:center;transform:scaleX(1.1700);transform-origin:center center;">338</div>
<div class="t d" style="top:506px;font-size:19.6px;color:#000;-webkit-text-stroke:0.3px #000;left:1181.25px;width:1200px;text-align:center;transform:scaleX(1.1700);transform-origin:center center;">94</div>
<div class="t d" style="top:506px;font-size:19.6px;color:#000;-webkit-text-stroke:0.3px #000;left:1243.75px;width:1200px;text-align:center;transform:scaleX(1.1700);transform-origin:center center;">232</div>
<div class="t d" style="top:506px;font-size:19.6px;color:#000;-webkit-text-stroke:0.3px #000;left:1306.25px;width:1200px;text-align:center;transform:scaleX(1.1700);transform-origin:center center;">513</div>
<div class="t d" style="top:506px;font-size:19.6px;color:#000;-webkit-text-stroke:0.3px #000;left:1368.75px;width:1200px;text-align:center;transform:scaleX(1.1700);transform-origin:center center;">303</div>
<div class="t d" style="top:506px;font-size:19.6px;color:#000;-webkit-text-stroke:0.3px #000;left:1431.25px;width:1200px;text-align:center;transform:scaleX(1.1700);transform-origin:center center;">274</div>
<div class="t d" style="top:506px;font-size:19.6px;color:#000;-webkit-text-stroke:0.3px #000;left:1493.75px;width:1200px;text-align:center;transform:scaleX(1.1700);transform-origin:center center;">297</div>
<div class="t d" style="top:506px;font-size:19.6px;color:#000;-webkit-text-stroke:0.3px #000;left:1618.75px;width:1200px;text-align:center;transform:scaleX(1.1700);transform-origin:center center;">390</div>
<div class="t d" style="top:506px;font-size:19.6px;color:#000;-webkit-text-stroke:0.3px #000;left:1681.25px;width:1200px;text-align:center;transform:scaleX(1.1700);transform-origin:center center;">376</div>
<div class="t d" style="top:506px;font-size:19.6px;color:#000;-webkit-text-stroke:0.3px #000;left:1743.75px;width:1200px;text-align:center;transform:scaleX(1.1700);transform-origin:center center;">384</div>
<div class="t d" style="top:506px;font-size:19.6px;color:#000;-webkit-text-stroke:0.3px #000;left:1806.25px;width:1200px;text-align:center;transform:scaleX(1.1700);transform-origin:center center;">272</div>
<div class="t d" style="top:547px;font-size:19.6px;color:#000;-webkit-text-stroke:0.3px #000;left:1181.25px;width:1200px;text-align:center;transform:scaleX(1.1700);transform-origin:center center;">98</div>
<div class="t d" style="top:547px;font-size:19.6px;color:#000;-webkit-text-stroke:0.3px #000;left:1243.75px;width:1200px;text-align:center;transform:scaleX(1.1700);transform-origin:center center;">176</div>
<div class="t d" style="top:547px;font-size:19.6px;color:#000;-webkit-text-stroke:0.3px #000;left:1306.25px;width:1200px;text-align:center;transform:scaleX(1.1700);transform-origin:center center;">455</div>
<div class="t d" style="top:547px;font-size:19.6px;color:#000;-webkit-text-stroke:0.3px #000;left:1368.75px;width:1200px;text-align:center;transform:scaleX(1.1700);transform-origin:center center;">556</div>
<div class="t d" style="top:547px;font-size:19.6px;color:#000;-webkit-text-stroke:0.3px #000;left:1431.25px;width:1200px;text-align:center;transform:scaleX(1.1700);transform-origin:center center;">384</div>
<div class="t d" style="top:547px;font-size:19.6px;color:#000;-webkit-text-stroke:0.3px #000;left:1493.75px;width:1200px;text-align:center;transform:scaleX(1.1700);transform-origin:center center;">291</div>
<div class="t d" style="top:547px;font-size:19.6px;color:#000;-webkit-text-stroke:0.3px #000;left:1556.25px;width:1200px;text-align:center;transform:scaleX(1.1700);transform-origin:center center;">280</div>
<div class="t d" style="top:547px;font-size:19.6px;color:#000;-webkit-text-stroke:0.3px #000;left:1681.25px;width:1200px;text-align:center;transform:scaleX(1.1700);transform-origin:center center;">338</div>
<div class="t d" style="top:547px;font-size:19.6px;color:#000;-webkit-text-stroke:0.3px #000;left:1743.75px;width:1200px;text-align:center;transform:scaleX(1.1700);transform-origin:center center;">468</div>
<div class="t d" style="top:547px;font-size:19.6px;color:#000;-webkit-text-stroke:0.3px #000;left:1806.25px;width:1200px;text-align:center;transform:scaleX(1.1700);transform-origin:center center;">342</div>
<div class="t d" style="top:587px;font-size:19.6px;color:#000;-webkit-text-stroke:0.3px #000;left:1181.25px;width:1200px;text-align:center;transform:scaleX(1.1700);transform-origin:center center;">110</div>
<div class="t d" style="top:587px;font-size:19.6px;color:#000;-webkit-text-stroke:0.3px #000;left:1243.75px;width:1200px;text-align:center;transform:scaleX(1.1700);transform-origin:center center;">192</div>
<div class="t d" style="top:587px;font-size:19.6px;color:#000;-webkit-text-stroke:0.3px #000;left:1306.25px;width:1200px;text-align:center;transform:scaleX(1.1700);transform-origin:center center;">326</div>
<div class="t d" style="top:587px;font-size:19.6px;color:#000;-webkit-text-stroke:0.3px #000;left:1368.75px;width:1200px;text-align:center;transform:scaleX(1.1700);transform-origin:center center;">587</div>
<div class="t d" style="top:587px;font-size:19.6px;color:#000;-webkit-text-stroke:0.3px #000;left:1431.25px;width:1200px;text-align:center;transform:scaleX(1.1700);transform-origin:center center;">618</div>
<div class="t d" style="top:587px;font-size:19.6px;color:#000;-webkit-text-stroke:0.3px #000;left:1493.75px;width:1200px;text-align:center;transform:scaleX(1.1700);transform-origin:center center;">609</div>
<div class="t d" style="top:587px;font-size:19.6px;color:#000;-webkit-text-stroke:0.3px #000;left:1556.25px;width:1200px;text-align:center;transform:scaleX(1.1700);transform-origin:center center;">320</div>
<div class="t d" style="top:587px;font-size:19.6px;color:#000;-webkit-text-stroke:0.3px #000;left:1618.75px;width:1200px;text-align:center;transform:scaleX(1.1700);transform-origin:center center;">350</div>
<div class="t d" style="top:587px;font-size:19.6px;color:#000;-webkit-text-stroke:0.3px #000;left:1743.75px;width:1200px;text-align:center;transform:scaleX(1.1700);transform-origin:center center;">358</div>
<div class="t d" style="top:587px;font-size:19.6px;color:#000;-webkit-text-stroke:0.3px #000;left:1806.25px;width:1200px;text-align:center;transform:scaleX(1.1700);transform-origin:center center;">381</div>
<div class="t d" style="top:626px;font-size:19.6px;color:#000;-webkit-text-stroke:0.3px #000;left:1181.25px;width:1200px;text-align:center;transform:scaleX(1.1700);transform-origin:center center;">133</div>
<div class="t d" style="top:626px;font-size:19.6px;color:#000;-webkit-text-stroke:0.3px #000;left:1243.75px;width:1200px;text-align:center;transform:scaleX(1.1700);transform-origin:center center;">232</div>
<div class="t d" style="top:626px;font-size:19.6px;color:#000;-webkit-text-stroke:0.3px #000;left:1306.25px;width:1200px;text-align:center;transform:scaleX(1.1700);transform-origin:center center;">262</div>
<div class="t d" style="top:626px;font-size:19.6px;color:#000;-webkit-text-stroke:0.3px #000;left:1368.75px;width:1200px;text-align:center;transform:scaleX(1.1700);transform-origin:center center;">448</div>
<div class="t d" style="top:626px;font-size:19.6px;color:#000;-webkit-text-stroke:0.3px #000;left:1431.25px;width:1200px;text-align:center;transform:scaleX(1.1700);transform-origin:center center;">536</div>
<div class="t d" style="top:626px;font-size:19.6px;color:#000;-webkit-text-stroke:0.3px #000;left:1493.75px;width:1200px;text-align:center;transform:scaleX(1.1700);transform-origin:center center;">716</div>
<div class="t d" style="top:626px;font-size:19.6px;color:#000;-webkit-text-stroke:0.3px #000;left:1556.25px;width:1200px;text-align:center;transform:scaleX(1.1700);transform-origin:center center;">568</div>
<div class="t d" style="top:626px;font-size:19.6px;color:#000;-webkit-text-stroke:0.3px #000;left:1618.75px;width:1200px;text-align:center;transform:scaleX(1.1700);transform-origin:center center;">394</div>
<div class="t d" style="top:626px;font-size:19.6px;color:#000;-webkit-text-stroke:0.3px #000;left:1681.25px;width:1200px;text-align:center;transform:scaleX(1.1700);transform-origin:center center;">378</div>
<div class="t d" style="top:626px;font-size:19.6px;color:#000;-webkit-text-stroke:0.3px #000;left:1806.25px;width:1200px;text-align:center;transform:scaleX(1.1700);transform-origin:center center;">401</div>
<div class="t d" style="top:666px;font-size:19.6px;color:#000;-webkit-text-stroke:0.3px #000;left:1181.25px;width:1200px;text-align:center;transform:scaleX(1.1700);transform-origin:center center;">186</div>
<div class="t d" style="top:666px;font-size:19.6px;color:#000;-webkit-text-stroke:0.3px #000;left:1243.75px;width:1200px;text-align:center;transform:scaleX(1.1700);transform-origin:center center;">359</div>
<div class="t d" style="top:666px;font-size:19.6px;color:#000;-webkit-text-stroke:0.3px #000;left:1306.25px;width:1200px;text-align:center;transform:scaleX(1.1700);transform-origin:center center;">384</div>
<div class="t d" style="top:666px;font-size:19.6px;color:#000;-webkit-text-stroke:0.3px #000;left:1368.75px;width:1200px;text-align:center;transform:scaleX(1.1700);transform-origin:center center;">408</div>
<div class="t d" style="top:666px;font-size:19.6px;color:#000;-webkit-text-stroke:0.3px #000;left:1431.25px;width:1200px;text-align:center;transform:scaleX(1.1700);transform-origin:center center;">533</div>
<div class="t d" style="top:666px;font-size:19.6px;color:#000;-webkit-text-stroke:0.3px #000;left:1493.75px;width:1200px;text-align:center;transform:scaleX(1.1700);transform-origin:center center;">615</div>
<div class="t d" style="top:666px;font-size:19.6px;color:#000;-webkit-text-stroke:0.3px #000;left:1556.25px;width:1200px;text-align:center;transform:scaleX(1.1700);transform-origin:center center;">657</div>
<div class="t d" style="top:666px;font-size:19.6px;color:#000;-webkit-text-stroke:0.3px #000;left:1618.75px;width:1200px;text-align:center;transform:scaleX(1.1700);transform-origin:center center;">572</div>
<div class="t d" style="top:666px;font-size:19.6px;color:#000;-webkit-text-stroke:0.3px #000;left:1681.25px;width:1200px;text-align:center;transform:scaleX(1.1700);transform-origin:center center;">935</div>
<div class="t d" style="top:666px;font-size:19.6px;color:#000;-webkit-text-stroke:0.3px #000;left:1743.75px;width:1200px;text-align:center;transform:scaleX(1.1700);transform-origin:center center;">468</div>
<div class="sb" style="left:187px;top:752px;width:314px;height:282px;background:#f2f2f2;"></div>
<div style="left:187px;top:752px;width:313px;height:48px;background:#404040;"></div>
<div class="vb" style="left:500px;top:752px;width:125px;height:48px;background:#43bb56;"></div>
<div class="t" style="left:242.5px;top:764.6px;font-size:29.3px;color:#fff;-webkit-text-stroke:0.9px #fff;transform:scaleX(1.0120);transform-origin:left center;">Average Response</div>
<div class="t" style="left:531.96px;top:763.55px;font-size:30.3px;color:#000;-webkit-text-stroke:1.0px #000;transform:scaleX(1.0439);transform-origin:left center;">3.32</div>
<div class="t" style="left:629.05px;top:764.6px;font-size:29.3px;color:#000;-webkit-text-stroke:1.0px #000;transform:scaleX(0.9539);transform-origin:left center;">ms</div>
<div class="shl" style="left:187px;top:799px;width:313px;height:0px;"></div>
<div class="t" style="left:315.5px;top:811.6px;font-size:29.3px;color:#3c3c3c;-webkit-text-stroke:0.9px #3c3c3c;transform:scaleX(1.0229);transform-origin:left center;">Average Rise</div>
<div class="t" style="left:533.75px;top:810.55px;font-size:30.3px;color:#000;-webkit-text-stroke:1.0px #000;transform:scaleX(1.0129);transform-origin:left center;">4.15</div>
<div class="t" style="left:629.05px;top:811.6px;font-size:29.3px;color:#000;-webkit-text-stroke:1.0px #000;transform:scaleX(0.9539);transform-origin:left center;">ms</div>
<div class="shl" style="left:187px;top:846px;width:313px;height:0px;"></div>
<div class="t" style="left:320.75px;top:858.6px;font-size:29.3px;color:#3c3c3c;-webkit-text-stroke:0.9px #3c3c3c;transform:scaleX(1.0660);transform-origin:left center;">Average Fall</div>
<div class="t" style="left:531.96px;top:857.55px;font-size:30.3px;color:#000;-webkit-text-stroke:1.0px #000;transform:scaleX(1.0439);transform-origin:left center;">2.49</div>
<div class="t" style="left:629.05px;top:858.6px;font-size:29.3px;color:#000;-webkit-text-stroke:1.0px #000;transform:scaleX(0.9539);transform-origin:left center;">ms</div>
<div class="shl" style="left:187px;top:893px;width:313px;height:0px;"></div>
<div class="t" style="left:428.51px;top:905.6px;font-size:29.3px;color:#3c3c3c;-webkit-text-stroke:0.9px #3c3c3c;transform:scaleX(1.1184);transform-origin:left center;">Best</div>
<div class="t" style="left:532.02px;top:904.55px;font-size:30.3px;color:#000;-webkit-text-stroke:1.0px #000;transform:scaleX(0.9781);transform-origin:left center;">0.41</div>
<div class="t" style="left:629.05px;top:905.6px;font-size:29.3px;color:#000;-webkit-text-stroke:1.0px #000;transform:scaleX(0.9539);transform-origin:left center;">ms</div>
<div class="shl" style="left:187px;top:940px;width:313px;height:0px;"></div>
<div class="t" style="left:408.75px;top:952.6px;font-size:29.3px;color:#3c3c3c;-webkit-text-stroke:0.9px #3c3c3c;transform:scaleX(1.1136);transform-origin:left center;">Worst</div>
<div class="t" style="left:532.72px;top:951.55px;font-size:30.3px;color:#000;-webkit-text-stroke:1.0px #000;transform:scaleX(1.0307);transform-origin:left center;">9.57</div>
<div class="t" style="left:629.05px;top:952.6px;font-size:29.3px;color:#000;-webkit-text-stroke:1.0px #000;transform:scaleX(0.9539);transform-origin:left center;">ms</div>
<div class="shl" style="left:187px;top:987px;width:313px;height:0px;"></div>
<div class="t" style="left:222.5px;top:998.6px;font-size:29.3px;color:#3c3c3c;-webkit-text-stroke:0.9px #3c3c3c;transform:scaleX(1.0625);transform-origin:left center;">Average Dark Level</div>
<div class="t" style="left:535.54px;top:997.55px;font-size:30.3px;color:#000;-webkit-text-stroke:1.0px #000;transform:scaleX(0.9821);transform-origin:left center;">1.93</div>
<div class="t" style="left:629.05px;top:998.6px;font-size:29.3px;color:#000;-webkit-text-stroke:1.0px #000;transform:scaleX(0.9539);transform-origin:left center;">ms</div>
<div class="sb" style="left:750px;top:752px;width:313px;height:142px;background:#f2f2f2;"></div>
<div style="left:750px;top:752px;width:312px;height:48px;background:#404040;"></div>
<div class="vb" style="left:1062px;top:752px;width:125px;height:48px;background:#ff8e5a;"></div>
<div class="t" style="left:782.5px;top:764.6px;font-size:29.3px;color:#fff;-webkit-text-stroke:0.9px #fff;transform:scaleX(1.0437);transform-origin:left center;">Avg Total Response</div>
<div class="t" style="left:1089.26px;top:763.55px;font-size:30.3px;color:#000;-webkit-text-stroke:1.0px #000;transform:scaleX(0.9932);transform-origin:left center;">11.38</div>
<div class="t" style="left:1191.54px;top:764.6px;font-size:29.3px;color:#000;-webkit-text-stroke:1.0px #000;transform:scaleX(0.9605);transform-origin:left center;">ms</div>
<div class="shl" style="left:750px;top:799px;width:312px;height:0px;"></div>
<div class="t" style="left:855.75px;top:811.6px;font-size:29.3px;color:#3c3c3c;-webkit-text-stroke:0.9px #3c3c3c;transform:scaleX(1.0592);transform-origin:left center;">Avg Total Rise</div>
<div class="t" style="left:1089.28px;top:810.55px;font-size:30.3px;color:#000;-webkit-text-stroke:1.0px #000;transform:scaleX(0.9829);transform-origin:left center;">11.73</div>
<div class="t" style="left:1191.54px;top:811.6px;font-size:29.3px;color:#000;-webkit-text-stroke:1.0px #000;transform:scaleX(0.9605);transform-origin:left center;">ms</div>
<div class="shl" style="left:750px;top:846px;width:312px;height:0px;"></div>
<div class="t" style="left:860.5px;top:858.6px;font-size:29.3px;color:#3c3c3c;-webkit-text-stroke:0.9px #3c3c3c;transform:scaleX(1.1039);transform-origin:left center;">Avg Total Fall</div>
<div class="t" style="left:1089.29px;top:857.55px;font-size:30.3px;color:#000;-webkit-text-stroke:1.0px #000;transform:scaleX(0.9797);transform-origin:left center;">11.04</div>
<div class="t" style="left:1191.54px;top:858.6px;font-size:29.3px;color:#000;-webkit-text-stroke:1.0px #000;transform:scaleX(0.9605);transform-origin:left center;">ms</div>
<div class="sb" style="left:750px;top:940px;width:313px;height:141px;background:#f2f2f2;"></div>
<div class="t" style="left:877.41px;top:952.6px;font-size:29.3px;color:#3c3c3c;-webkit-text-stroke:0.9px #3c3c3c;transform:scaleX(1.0441);transform-origin:left center;">Refresh Rate</div>
<div class="t" style="left:1106.41px;top:951.55px;font-size:30.3px;color:#000;-webkit-text-stroke:1.0px #000;transform:scaleX(1.0938);transform-origin:left center;">60</div>
<div class="t" style="left:1190.45px;top:952.6px;font-size:29.3px;color:#000;-webkit-text-stroke:1.0px #000;transform:scaleX(1.0227);transform-origin:left center;">Hz</div>
<div class="shl" style="left:750px;top:987px;width:312px;height:0px;"></div>
<div class="t" style="left:826.61px;top:998.6px;font-size:29.3px;color:#3c3c3c;-webkit-text-stroke:0.9px #3c3c3c;transform:scaleX(1.0716);transform-origin:left center;">Refresh Window</div>
<div class="t" style="left:1089.26px;top:997.55px;font-size:30.3px;color:#000;-webkit-text-stroke:1.0px #000;transform:scaleX(0.9932);transform-origin:left center;">16.67</div>
<div class="t" style="left:1191.54px;top:998.6px;font-size:29.3px;color:#000;-webkit-text-stroke:1.0px #000;transform:scaleX(0.9605);transform-origin:left center;">ms</div>
<div class="shl" style="left:750px;top:1033px;width:312px;height:0px;"></div>
<div class="t" style="left:786.71px;top:1045.6px;font-size:29.3px;color:#3c3c3c;-webkit-text-stroke:0.9px #3c3c3c;transform:scaleX(1.0200);transform-origin:left center;">Refresh Compliance</div>
<div class="t" style="left:1089.26px;top:1044.55px;font-size:30.3px;color:#000;-webkit-text-stroke:1.0px #000;transform:scaleX(0.9932);transform-origin:left center;">100.0</div>
<div class="t" style="left:1192.75px;top:1045.6px;font-size:29.3px;color:#000;-webkit-text-stroke:1.0px #000;transform:scaleX(1.0000);transform-origin:left center;">%</div>
<div class="sb" style="left:1312px;top:752px;width:314px;height:142px;background:#f2f2f2;"></div>
<div style="left:1312px;top:752px;width:313px;height:48px;background:#404040;"></div>
<div class="vb" style="left:1625px;top:752px;width:125px;height:48px;background:#ffbe5f;"></div>
<div class="t" style="left:1319.94px;top:764.6px;font-size:29.3px;color:#fff;-webkit-text-stroke:0.9px #fff;transform:scaleX(1.0294);transform-origin:left center;">Inverse Ghosting Rate</div>
<div class="t" style="left:1656.97px;top:763.55px;font-size:30.3px;color:#000;-webkit-text-stroke:1.0px #000;transform:scaleX(1.0345);transform-origin:left center;">26.4</div>
<div class="t" style="left:1754.47px;top:764.6px;font-size:29.3px;color:#000;-webkit-text-stroke:1.0px #000;transform:scaleX(1.0300);transform-origin:left center;">%</div>
<div class="shl" style="left:1312px;top:799px;width:313px;height:0px;"></div>
<div class="t" style="left:1427.5px;top:811.6px;font-size:29.3px;color:#3c3c3c;-webkit-text-stroke:0.9px #3c3c3c;transform:scaleX(1.0549);transform-origin:left center;">Average Error</div>
<div class="t" style="left:1660.52px;top:810.55px;font-size:30.3px;color:#000;-webkit-text-stroke:1.0px #000;transform:scaleX(0.9911);transform-origin:left center;">11.9</div>
<div class="t" style="left:1754.47px;top:811.6px;font-size:29.3px;color:#000;-webkit-text-stroke:1.0px #000;transform:scaleX(1.0300);transform-origin:left center;">%</div>
<div class="shl" style="left:1312px;top:846px;width:313px;height:0px;"></div>
<div class="t" style="left:1454.5px;top:858.6px;font-size:29.3px;color:#3c3c3c;-webkit-text-stroke:0.9px #3c3c3c;transform:scaleX(1.1000);transform-origin:left center;">Worst Error</div>
<div class="t" style="left:1657.77px;top:857.55px;font-size:30.3px;color:#000;-webkit-text-stroke:1.0px #000;transform:scaleX(0.9781);transform-origin:left center;">71.1</div>
<div class="t" style="left:1754.47px;top:858.6px;font-size:29.3px;color:#000;-webkit-text-stroke:1.0px #000;transform:scaleX(1.0300);transform-origin:left center;">%</div>
<div class="sb" style="left:1312px;top:940px;width:314px;height:141px;background:#f2f2f2;"></div>
<div class="t" style="left:1375.16px;top:952.6px;font-size:29.3px;color:#3c3c3c;-webkit-text-stroke:0.9px #3c3c3c;transform:scaleX(1.0859);transform-origin:left center;">Overdrive Setting</div>
<div class="t" style="left:1655.53px;top:952.6px;font-size:29.3px;color:#000;-webkit-text-stroke:1.0px #000;transform:scaleX(0.9868);transform-origin:left center;">High</div>
<div class="shl" style="left:1312px;top:987px;width:313px;height:0px;"></div>
<div class="t" style="left:1419.11px;top:998.6px;font-size:29.3px;color:#3c3c3c;-webkit-text-stroke:0.9px #3c3c3c;transform:scaleX(1.0716);transform-origin:left center;">Display Status</div>
<div class="t" style="left:1656.43px;top:998.6px;font-size:29.3px;color:#000;-webkit-text-stroke:1.0px #000;transform:scaleX(1.0687);transform-origin:left center;">Calibrated</div>
<div class="shl" style="left:1312px;top:1033px;width:313px;height:0px;"></div>
<div class="t" style="left:1373.98px;top:1045.6px;font-size:29.3px;color:#3c3c3c;-webkit-text-stroke:0.9px #3c3c3c;transform:scaleX(1.0230);transform-origin:left center;">Gamma Corrected</div>
<div class="t" style="left:1658.75px;top:1045.6px;font-size:29.3px;color:#000;-webkit-text-stroke:1.0px #000;transform:scaleX(0.9850);transform-origin:left center;">Yes</div>
<div class="sb" style="left:1875px;top:752px;width:313px;height:282px;background:#f2f2f2;"></div>
<div style="left:1875px;top:752px;width:312px;height:48px;background:#404040;"></div>
<div class="vb" style="left:2187px;top:752px;width:125px;height:48px;background:#b6cd60;"></div>
<div class="t" style="left:2020px;top:764.6px;font-size:29.3px;color:#fff;-webkit-text-stroke:0.9px #fff;transform:scaleX(1.0189);transform-origin:left center;">Average CD</div>
<div class="t" style="left:2223.2px;top:763.55px;font-size:30.3px;color:#000;-webkit-text-stroke:1.0px #000;transform:scaleX(1.0510);transform-origin:left center;">385</div>
<div class="shl" style="left:1875px;top:799px;width:312px;height:0px;"></div>
<div class="t" style="left:1954.5px;top:811.6px;font-size:29.3px;color:#3c3c3c;-webkit-text-stroke:0.9px #3c3c3c;transform:scaleX(1.0066);transform-origin:left center;">Average CD Rise</div>
<div class="t" style="left:2224.25px;top:810.55px;font-size:30.3px;color:#000;-webkit-text-stroke:1.0px #000;transform:scaleX(1.0300);transform-origin:left center;">407</div>
<div class="shl" style="left:1875px;top:846px;width:312px;height:0px;"></div>
<div class="t" style="left:1959.25px;top:858.6px;font-size:29.3px;color:#3c3c3c;-webkit-text-stroke:0.9px #3c3c3c;transform:scaleX(1.0409);transform-origin:left center;">Average CD Fall</div>
<div class="t" style="left:2223.2px;top:857.55px;font-size:30.3px;color:#000;-webkit-text-stroke:1.0px #000;transform:scaleX(1.0510);transform-origin:left center;">363</div>
<div class="shl" style="left:1875px;top:893px;width:312px;height:0px;"></div>
<div class="t" style="left:2067.38px;top:905.6px;font-size:29.3px;color:#3c3c3c;-webkit-text-stroke:0.9px #3c3c3c;transform:scaleX(1.0613);transform-origin:left center;">Best CD</div>
<div class="t" style="left:2231.94px;top:904.55px;font-size:30.3px;color:#000;-webkit-text-stroke:1.0px #000;transform:scaleX(1.0625);transform-origin:left center;">53</div>
<div class="shl" style="left:1875px;top:940px;width:312px;height:0px;"></div>
<div class="t" style="left:2047.5px;top:952.6px;font-size:29.3px;color:#3c3c3c;-webkit-text-stroke:0.9px #3c3c3c;transform:scaleX(1.0675);transform-origin:left center;">Worst CD</div>
<div class="t" style="left:2223.2px;top:951.55px;font-size:30.3px;color:#000;-webkit-text-stroke:1.0px #000;transform:scaleX(1.0510);transform-origin:left center;">935</div>
<div class="shl" style="left:1875px;top:987px;width:312px;height:0px;"></div>
<div class="t" style="left:1921.25px;top:998.6px;font-size:29.3px;color:#3c3c3c;-webkit-text-stroke:0.9px #3c3c3c;transform:scaleX(1.0514);transform-origin:left center;">Avg Dark Level CD</div>
<div class="t" style="left:2223.2px;top:997.55px;font-size:30.3px;color:#000;-webkit-text-stroke:1.0px #000;transform:scaleX(1.0510);transform-origin:left center;">355</div>
</body></html>
